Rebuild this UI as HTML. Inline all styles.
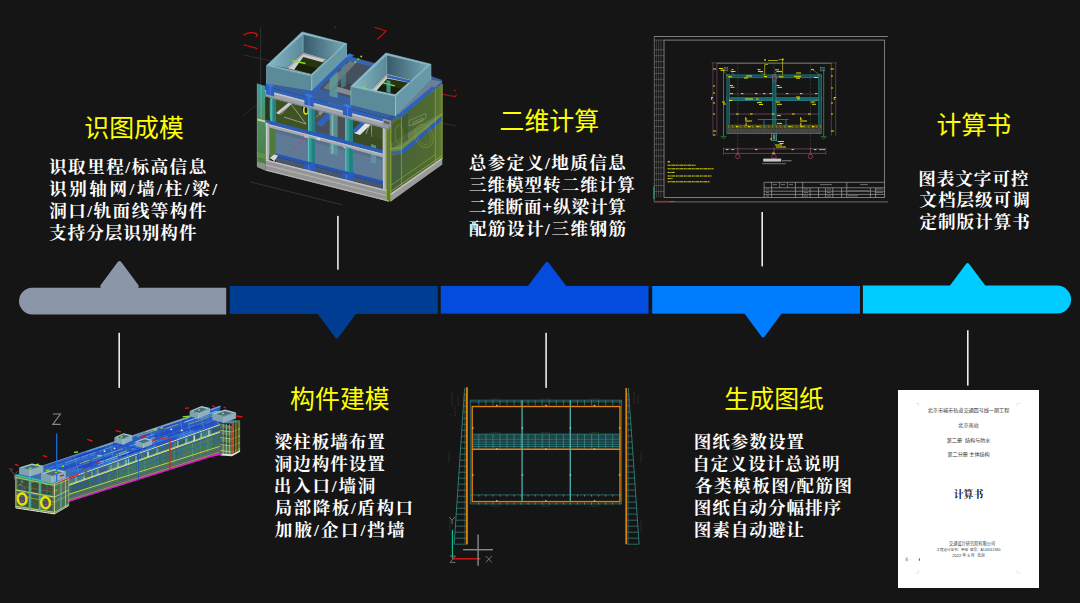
<!DOCTYPE html>
<html lang="zh-CN">
<head>
<meta charset="utf-8">
<title>识图成模 · 构件建模 · 二维计算 · 生成图纸 · 计算书</title>
<style>
html,body{margin:0;padding:0;background:#151515;}
body{width:1080px;height:603px;overflow:hidden;font-family:"Liberation Sans","Noto Sans CJK SC",sans-serif;}
.slide{position:relative;width:1080px;height:603px;background:#151515;overflow:hidden;}
.slide svg.art{position:absolute;left:0;top:0;width:1080px;height:603px;display:block;}
svg.art text{white-space:pre;}
svg.art .t{font-family:"Liberation Sans","Noto Sans CJK SC",sans-serif;font-size:24.9px;fill:#ffff00;}
svg.art .l{font-family:"Liberation Serif","Noto Serif CJK SC",serif;font-weight:bold;font-size:17.6px;fill:#ffffff;}
svg.art .d{font-family:"Liberation Sans","Noto Sans CJK SC",sans-serif;}
</style>
</head>
<body>
<div class="slide">
<svg class="art" viewBox="0 0 1080 603" width="1080" height="603">
<rect width="1080" height="603" fill="#151515"/>
<g id="timeline">
<path d="M32.3 287.8H226.2V314.4H32.3A13.3 13.3 0 0 1 32.3 287.8Z" fill="#8b96a8"/>
<rect x="229.8" y="286" width="208" height="27.9" fill="#003e94"/>
<rect x="440.7" y="285.9" width="207.8" height="27.8" fill="#044cde"/>
<rect x="652.2" y="286" width="207.8" height="27.7" fill="#007cff"/>
<path d="M862.9 285.6H1057.1A14 14 0 0 1 1057.1 313.6H862.9Z" fill="#00ccff"/>
<path d="M119.5 263.2L136.55 286.3L102.45 286.3Z" fill="#8b96a8" stroke="#8b96a8" stroke-width="4.4" stroke-linejoin="round"/><path d="M336.80 336.30L354.89 311.80L318.71 311.80Z" fill="#003e94" stroke="#003e94" stroke-width="4.00" stroke-linejoin="round"/><path d="M547.05 263.90L565.00 287.80L529.10 287.80Z" fill="#044cde" stroke="#044cde" stroke-width="4.00" stroke-linejoin="round"/><path d="M763.05 335.30L780.44 311.90L745.66 311.90Z" fill="#007cff" stroke="#007cff" stroke-width="4.00" stroke-linejoin="round"/><path d="M967.60 265.10L984.34 287.80L950.86 287.80Z" fill="#00ccff" stroke="#00ccff" stroke-width="4.00" stroke-linejoin="round"/><rect x="118.4" y="332.8" width="1.6" height="55.1" fill="#ececec"/><rect x="337.1" y="215.9" width="1.6" height="53.8" fill="#ececec"/><rect x="545.3" y="332.8" width="1.6" height="55.1" fill="#ececec"/><rect x="761.4" y="212.0" width="1.6" height="54.4" fill="#ececec"/><rect x="967.0" y="330.2" width="1.6" height="55.4" fill="#ececec"/></g>
<defs><linearGradient id="bgA" x1="0" y1="0" x2="1" y2="0"><stop offset="0" stop-color="#86b6c4"/><stop offset="1" stop-color="#5a8a99"/></linearGradient><linearGradient id="bgB" x1="0" y1="0" x2="1" y2="0"><stop offset="0" stop-color="#36596a"/><stop offset="1" stop-color="#74a6b4"/></linearGradient><linearGradient id="bgL" x1="0" y1="0" x2="0" y2="1"><stop offset="0" stop-color="#3d9c9c"/><stop offset="0.4" stop-color="#4f8f66"/><stop offset="1" stop-color="#4c7a3a"/></linearGradient><linearGradient id="bgR" x1="0" y1="0" x2="1" y2="0"><stop offset="0" stop-color="#48623a"/><stop offset="0.8" stop-color="#4f6a30"/><stop offset="1" stop-color="#5f7e34"/></linearGradient></defs>
<g id="building">
<polyline points="260.6,27.0 260.6,92.0" fill="none" stroke="#3d3d3d" stroke-width="0.7"/>
<polyline points="243.3,54.8 300.0,67.5" fill="none" stroke="#3a3a3a" stroke-width="0.7"/>
<polyline points="243.0,116.0 262.0,100.0" fill="none" stroke="#333" stroke-width="0.7"/>
<polyline points="250.0,181.8 342.9,205.0" fill="none" stroke="#3a3a3a" stroke-width="0.8"/>
<polyline points="420.0,90.0 456.0,97.0" fill="none" stroke="#383838" stroke-width="0.7"/>
<polyline points="428.0,120.0 456.0,126.0" fill="none" stroke="#383838" stroke-width="0.7"/>
<path d="M243.6 35.2q5.5-4.2 12.6-1.6q2.2 1.6-.6 3.2" fill="none" stroke="#e01010" stroke-width="1.3"/>
<polyline points="243.5,44.8 257.5,48.6" fill="none" stroke="#c81010" stroke-width="1.1"/>
<polyline points="374.5,27.3 386.2,31.0 377.0,39.5" fill="none" stroke="#c01010" stroke-width="1.1"/>
<polyline points="334.3,28.2 336.0,26.6" fill="none" stroke="#c01010" stroke-width="1"/>
<polyline points="436.5,93.0 455.0,96.6 456.6,94.6" fill="none" stroke="#a01010" stroke-width="1.1"/>
<circle cx="454.7" cy="90.2" r="0.8" fill="#e01010"/>
<polygon points="265.3,90.2 386.4,122.6 386.4,155.6 265.3,124.0" fill="#2a351c"/>
<polygon points="270.0,95.7 307.0,105.6 307.0,132.4 270.0,122.7" fill="#3f5223"/>
<polygon points="315.0,107.7 346.0,115.9 346.0,142.6 315.0,134.5" fill="#4a4f58"/>
<polygon points="352.0,117.5 383.0,125.8 383.0,152.2 352.0,144.1" fill="#3a4a24"/>
<polygon points="276.0,113.0 290.0,101.5 293.0,102.5 279.0,114.5" fill="#c9ccd0"/>
<polyline points="281.0,114.5 291.0,104.0 306.0,124.0 284.0,117.0" fill="none" stroke="#e8e8e8" stroke-width="0.5"/>
<polygon points="300.0,100.5 307.0,102.4 307.0,114.0 303.0,112.0" fill="#151a10"/>
<ellipse cx="306" cy="110" rx="2.2" ry="4" fill="none" stroke="#e6e600" stroke-width="1.6"/>
<polygon points="316.0,124.0 330.0,109.0 337.0,111.0 322.0,127.0" fill="#2f62b8"/>
<polygon points="318.0,112.0 330.0,100.0 344.0,104.0 344.0,108.0 331.0,104.5 320.0,116.0" fill="#7e858e"/>
<polyline points="316.0,117.5 324.0,109.5 330.0,111.0" fill="none" stroke="#e6e600" stroke-width="0.5"/>
<polygon points="354.0,133.0 372.0,116.0 378.0,117.6 360.0,135.0" fill="#dfe2e6"/>
<polygon points="352.0,131.0 368.0,114.0 373.0,115.4 356.0,132.5" fill="#2f62b8"/>
<polyline points="366.0,134.0 371.0,121.0 372.0,137.0" fill="none" stroke="#e8e8e8" stroke-width="0.5"/>
<polygon points="372.0,118.0 383.0,121.0 383.0,140.0 372.0,137.0" fill="#3e5226"/>
<polygon points="269.0,126.7 383.5,156.5 383.5,183.8 269.0,154.5" fill="#5f7a96"/>
<polygon points="269.0,126.7 383.5,156.5 383.5,160.6 269.0,130.9" fill="#566f8a"/>
<polygon points="269.5,126.0 275.5,127.6 275.5,155.0 269.5,160.0" fill="#4f7a3a"/>
<polygon points="269.5,100.0 275.5,101.6 275.5,119.0 269.5,117.5" fill="#46803f"/>
<polygon points="329.6,108.2 337.6,110.4 337.6,155.4 329.6,153.3" fill="#5d9b9b" opacity="0.8"/>
<polygon points="371.0,144.1 376.0,145.4 376.0,163.7 371.0,162.4" fill="#5d9b9b" opacity="0.8"/>
<polygon points="331.5,108.7 333.3,109.2 333.3,154.3 331.5,153.8" fill="#8fc6c6" opacity="0.7"/>
<polygon points="315.0,131.0 383.5,150.5 383.5,154.0 315.0,134.5" fill="#2a5ab4"/>
<polygon points="336.0,141.5 383.5,154.5 383.5,157.2 336.0,144.2" fill="#c3c6ca"/>
<polygon points="343.5,145.0 347.0,146.0 347.0,149.0 343.5,148.0" fill="#d0d0d0"/>
<polygon points="329.6,140.0 337.6,142.0 337.6,145.5 329.6,143.5" fill="#3f9c98"/>
<polygon points="265.3,119.4 386.4,151.1 386.4,154.8 265.3,123.2" fill="#2a5cb8"/>
<polygon points="265.3,123.2 386.4,154.8 386.4,157.9 265.3,126.4" fill="#a4a8ae"/>
<polygon points="265.3,123.2 386.4,154.8 386.4,155.8 265.3,124.2" fill="#c4c8cc"/>
<polygon points="304.0,134.0 308.5,135.2 308.5,138.5 304.0,137.3" fill="#b9b9b9"/>
<polygon points="316.5,137.3 320.0,138.3 320.0,140.6 316.5,139.6" fill="#d4d4d4"/>
<polyline points="305.0,137.7 281.8,160.0" fill="none" stroke="#c8425a" stroke-width="0.9"/>
<polyline points="388.0,181.0 371.0,196.5" fill="none" stroke="#c040c0" stroke-width="0.9"/>
<polygon points="270.2,96.6 275.9,98.1 275.9,122.2 270.2,120.7" fill="#2f9a96"/>
<polygon points="273.3,97.4 275.9,98.1 275.9,122.2 273.3,121.5" fill="#237f80"/>
<polygon points="270.6,96.7 271.6,97.0 271.6,121.0 270.6,120.8" fill="#66c8c4"/>
<polygon points="307.7,106.6 315.0,108.5 315.0,132.4 307.7,130.5" fill="#2f9a96"/>
<polygon points="311.7,107.7 315.0,108.5 315.0,132.4 311.7,131.5" fill="#237f80"/>
<polygon points="308.1,106.7 309.1,107.0 309.1,130.8 308.1,130.6" fill="#66c8c4"/>
<polygon points="345.0,116.5 352.8,118.6 352.8,142.3 345.0,140.2" fill="#2f9a96"/>
<polygon points="349.3,117.7 352.8,118.6 352.8,142.3 349.3,141.4" fill="#237f80"/>
<polygon points="345.4,116.6 346.4,116.9 346.4,140.6 345.4,140.3" fill="#66c8c4"/>
<polygon points="307.7,137.4 315.0,139.3 315.0,166.3 307.7,164.4" fill="#2f9a96"/>
<polygon points="311.7,138.5 315.0,139.3 315.0,166.3 311.7,165.4" fill="#237f80"/>
<polygon points="308.1,137.5 309.1,137.8 309.1,164.8 308.1,164.5" fill="#66c8c4"/>
<polygon points="345.0,147.1 352.8,149.2 352.8,175.9 345.0,173.9" fill="#2f9a96"/>
<polygon points="349.3,148.3 352.8,149.2 352.8,175.9 349.3,175.0" fill="#237f80"/>
<polygon points="345.4,147.2 346.4,147.5 346.4,174.3 345.4,174.0" fill="#66c8c4"/>
<polygon points="265.3,122.3 269.3,123.4 269.3,160.5 265.3,159.5" fill="#a9adb2"/>
<polygon points="266.2,122.6 267.2,122.8 267.2,160.0 266.2,159.7" fill="#d5d8dc"/>
<polygon points="382.6,127.4 386.4,128.4 386.4,190.3 382.6,189.3" fill="#a2a6ab"/>
<polygon points="383.4,127.6 384.4,127.8 384.4,189.8 383.4,189.5" fill="#d0d3d7"/>
<polygon points="275.9,153.4 383.0,180.7 383.0,184.1 275.9,156.7" fill="#2456b4"/>
<polygon points="275.9,156.7 383.0,184.1 383.0,189.0 275.9,161.8" fill="#46566e"/>
<polygon points="270.0,158.0 274.0,154.6 278.0,155.6 274.4,161.2" fill="#d8d8d8"/>
<polygon points="304.4,163.6 309.4,164.9 315.0,161.3 315.0,173.8 308.4,178.8 304.4,177.8" fill="#2a5cc0"/>
<polyline points="308.8,164.7 308.8,180.2" fill="none" stroke="#6f9be6" stroke-width="0.5"/>
<polygon points="342.2,173.2 347.2,174.5 353.5,171.1 353.5,183.6 346.2,188.4 342.2,187.4" fill="#2a5cc0"/>
<polyline points="346.6,174.3 346.6,189.7" fill="none" stroke="#6f9be6" stroke-width="0.5"/>
<polygon points="265.3,159.2 388.6,190.5 388.6,201.6 265.3,170.5" fill="#959595"/>
<polygon points="265.3,159.2 388.6,190.5 388.6,192.1 265.3,160.8" fill="#c2c2c2"/>
<polygon points="265.3,164.2 388.6,195.4 388.6,196.6 265.3,165.4" fill="#b4b4b4"/>
<polygon points="265.3,169.2 388.6,200.3 388.6,201.6 265.3,170.5" fill="#b0b0b0"/>
<polygon points="386.4,187.8 388.6,188.4 388.6,201.6 386.4,201.0" fill="#c8c8c8"/>
<polygon points="257.3,83.5 265.3,86.0 265.3,170.5 257.3,166.5" fill="url(#bgL)"/>
<polygon points="257.3,118.5 265.3,120.5 265.3,122.5 257.3,120.5" fill="#c8d88a"/>
<polygon points="257.3,152.0 265.3,154.0 265.3,159.0 257.3,157.0" fill="#5f8f4a"/>
<polygon points="257.3,161.9 265.3,163.5 265.3,170.5 257.3,167.2" fill="#8e8e8e"/>
<polyline points="257.3,83.5 257.3,166.5" fill="none" stroke="#9ab4c8" stroke-width="0.6"/>
<polyline points="261.0,85.0 261.0,119.0" fill="none" stroke="#6fd0d0" stroke-width="0.5"/>
<polygon points="386.4,121.0 390.7,120.9 390.7,201.5 386.4,200.0" fill="#5d7c3a"/>
<polygon points="390.7,120.9 442.2,84.0 442.2,164.5 390.7,201.5" fill="url(#bgR)"/>
<polygon points="390.7,120.9 401.4,113.2 401.4,193.8 390.7,201.5" fill="#55703a" opacity="0.9"/>
<polygon points="390.7,143.0 442.2,112.5 442.2,119.8 404.1,152.2 390.7,152.5" fill="#6a8a58" opacity="0.75"/>
<polygon points="401.5,150.5 442.2,115.8 442.2,120.3 404.5,153.6 401.5,154.0" fill="#2c5cb4"/>
<polygon points="390.7,151.5 401.5,150.5 401.5,154.0 390.7,154.6" fill="#3a62a8"/>
<polyline points="409.0,120.5 426.0,113.5 426.0,118.5 409.0,126.0 409.0,120.5" fill="none" stroke="#8a9c74" stroke-width="0.6"/>
<polyline points="412.0,122.5 423.0,118.0 423.0,120.6 412.0,125.4" fill="none" stroke="#9aac84" stroke-width="0.5"/>
<polygon points="392.0,124.0 408.0,113.5 408.0,140.0 392.0,148.0" fill="#3f5528" opacity="0.6"/>
<ellipse cx="424" cy="136" rx="9" ry="12" fill="none" stroke="#9aa830" stroke-width="0.4" transform="rotate(-20 424 136)"/>
<ellipse cx="424" cy="136" rx="6.5" ry="9" fill="none" stroke="#8a982a" stroke-width="0.4" transform="rotate(-20 424 136)"/>
<ellipse cx="399" cy="134" rx="4" ry="9" fill="none" stroke="#9aa830" stroke-width="0.4"/>
<polygon points="392.0,156.0 401.4,154.0 401.4,186.0 392.0,192.0" fill="#3c5640" opacity="0.7"/>
<polygon points="390.7,193.6 442.2,157.8 442.2,164.5 390.7,201.5" fill="#9a9a9a"/>
<polygon points="390.7,193.6 442.2,157.8 442.2,159.2 390.7,195.2" fill="#c4c4c4"/>
<polyline points="390.7,120.9 442.2,84.0" fill="none" stroke="#a4ba3a" stroke-width="0.8"/>
<polyline points="390.7,120.9 390.7,201.5" fill="none" stroke="#a4ba3a" stroke-width="0.7"/>
<polyline points="401.4,113.5 401.4,193.6" fill="none" stroke="#9fb83a" stroke-width="0.6"/>
<polyline points="435.4,89.0 435.4,163.8" fill="none" stroke="#9fb83a" stroke-width="0.5"/>
<polyline points="442.2,84.0 442.2,159.0" fill="none" stroke="#a4ba3a" stroke-width="0.7"/>
<polyline points="390.7,191.4 442.2,155.6" fill="none" stroke="#a4ba3a" stroke-width="0.7"/>
<polyline points="390.7,185.5 435.4,154.6" fill="none" stroke="#9fb83a" stroke-width="0.5"/>
<polyline points="390.7,148.8 401.4,147.6 442.2,113.8" fill="none" stroke="#a4ba3a" stroke-width="0.6"/>
<polyline points="386.4,121.5 386.4,200.0" fill="none" stroke="#a4ba3a" stroke-width="0.6"/>
<polygon points="265.3,86.0 388.6,119.0 442.2,79.9 430.9,76.0 395.5,103.0 311.7,81.0 266.6,79.0" fill="#3a5f9e"/>
<polygon points="388.6,119.0 442.2,79.9 442.2,84.0 390.7,121.5" fill="#2a58b0"/>
<polygon points="395.5,110.0 430.9,79.8 442.2,81.5 400.0,117.0" fill="#6b7f98"/>
<polygon points="396.0,116.5 432.0,86.5 436.0,88.0 400.0,118.5" fill="#2e62b8"/>
<polygon points="318.0,88.0 349.0,56.0 384.0,65.5 352.0,98.0" fill="#44505c"/>
<polygon points="323.0,88.2 349.5,61.0 356.0,63.0 330.0,90.3" fill="#6d7780"/>
<polygon points="334.0,91.0 340.0,84.5 372.0,93.5 366.0,100.0" fill="#878c92"/>
<polygon points="337.0,86.5 342.0,81.5 368.0,89.0 363.0,94.0" fill="#3a434c"/>
<polygon points="329.6,75.0 337.6,68.0 337.6,98.0 329.6,96.0" fill="#5f9a98" opacity="0.85"/>
<polygon points="341.0,64.0 346.0,60.0 346.0,86.0 341.0,88.0" fill="#4f8888" opacity="0.7"/>
<polygon points="349.0,53.6 354.4,55.0 313.8,94.2 305.0,96.0 305.0,92.0" fill="#2e62b8"/>
<polygon points="345.0,56.0 350.0,53.5 352.0,55.6 347.0,58.5" fill="#3a72d0"/>
<polygon points="350.0,57.0 386.0,66.5 384.5,70.0 348.5,60.5" fill="#3566b6"/>
<polygon points="352.0,97.0 384.0,64.0 388.0,65.5 356.0,99.0" fill="#2a58ac"/>
<polygon points="265.3,86.0 388.6,119.0 388.6,123.2 265.3,90.2" fill="#2e62b8"/>
<polygon points="265.3,90.1 388.6,123.0 388.6,129.4 265.3,96.6" fill="#9ea3aa"/>
<polygon points="265.3,90.1 388.6,123.0 388.6,124.7 265.3,91.7" fill="#c0c4c9"/>
<polygon points="265.3,95.5 388.6,128.3 388.6,129.4 265.3,96.6" fill="#7e848c"/>
<polygon points="266.2,83.7 270.2,83.5 274.2,85.9 274.2,96.4 266.2,94.3" fill="#2c5fc2"/>
<polygon points="266.2,83.7 270.2,83.5 274.2,85.9 270.2,87.3" fill="#3f78d8"/>
<polyline points="270.2,87.3 270.2,95.3" fill="none" stroke="#6f9be6" stroke-width="0.5"/>
<polygon points="304.4,94.0 309.0,94.0 313.7,96.5 313.7,106.9 304.4,104.4" fill="#2c5fc2"/>
<polygon points="304.4,94.0 309.0,94.0 313.7,96.5 309.0,97.7" fill="#3f78d8"/>
<polyline points="309.0,97.7 309.0,105.7" fill="none" stroke="#6f9be6" stroke-width="0.5"/>
<polygon points="342.9,104.3 347.5,104.3 352.2,106.8 352.2,117.2 342.9,114.7" fill="#2c5fc2"/>
<polygon points="342.9,104.3 347.5,104.3 352.2,106.8 347.5,108.0" fill="#3f78d8"/>
<polyline points="347.5,108.0 347.5,115.9" fill="none" stroke="#6f9be6" stroke-width="0.5"/>
<polygon points="382.6,118.4 391.0,120.6 391.0,127.5 382.6,125.5" fill="#8e949c"/>
<polygon points="384.0,120.5 389.5,122.0 389.5,124.5 384.0,123.0" fill="#5a5f66"/>
<polygon points="268.6,64.9 303.1,34.2 303.1,52.2 285.8,68.1" fill="url(#bgA)"/><polygon points="303.1,34.2 344.6,44.2 327.0,59.2 303.1,52.2" fill="url(#bgB)"/><polygon points="285.8,68.1 303.1,52.2 327.0,59.2 311.3,74.4" fill="#98a4aa"/><polygon points="288.8,68.4 303.4,54.4 324.0,59.6 311.3,72.9" fill="#c9cdd0"/><polygon points="294.5,69.5 303.3,57.1 323.4,62.6 311.7,74.4" fill="#26340f"/><polygon points="294.5,69.5 298.9,63.3 317.5,68.5 311.7,74.4" fill="#111a08" opacity="0.7"/><polygon points="266.6,65.5 311.7,76.1 311.7,90.7 266.6,83.4" fill="#5b8a99"/><polygon points="311.7,76.1 346.6,43.6 346.6,56.8 311.7,90.7" fill="#6798a7"/><path d="M266.6 65.5L302.0 31.9L346.6 43.6L311.7 76.1ZM268.8 65.0L303.1 34.2L344.4 44.1L311.3 74.4Z" fill="#86b8c6" fill-rule="evenodd"/><polyline points="266.6,65.5 302.0,31.9 346.6,43.6 311.7,76.1 266.6,65.5" fill="none" stroke="#8ec2d0" stroke-width="0.6" stroke-linejoin="round"/><polyline points="268.8,65.0 303.1,34.2 344.4,44.1 311.3,74.4 268.8,65.0" fill="none" stroke="#a6d6e2" stroke-width="0.5"/><polyline points="303.1,34.2 303.1,52.2" fill="none" stroke="#9fd0dc" stroke-width="0.6"/><polyline points="311.7,76.1 311.7,90.7" fill="none" stroke="#9fd0dc" stroke-width="0.8"/><polyline points="266.6,65.5 266.6,83.4" fill="none" stroke="#8ec2d0" stroke-width="0.6"/><polyline points="346.6,43.6 346.6,56.8" fill="none" stroke="#8ec2d0" stroke-width="0.6"/><polyline points="292.2,60.6 305.5,63.5" fill="none" stroke="#86e81c" stroke-width="1.3"/>
<polygon points="352.9,85.8 386.7,55.1 386.7,73.8 369.9,89.8" fill="url(#bgA)"/><polygon points="386.7,55.1 428.9,64.8 411.7,79.8 386.7,73.8" fill="url(#bgB)"/><polygon points="369.9,89.8 386.7,73.8 411.7,79.8 395.1,94.7" fill="#98a4aa"/><polygon points="372.9,90.1 387.0,76.0 408.7,80.2 395.1,93.2" fill="#c9cdd0"/><polygon points="376.5,91.1 387.1,78.5 409.0,82.7 395.1,94.7" fill="#26340f"/><polygon points="376.5,91.1 381.8,84.8 402.1,88.7 395.1,94.7" fill="#111a08" opacity="0.7"/><polygon points="350.9,86.4 395.5,96.4 395.5,116.3 350.9,105.0" fill="#5b8a99"/><polygon points="395.5,96.4 430.9,64.2 430.9,79.8 395.5,116.3" fill="#6798a7"/><path d="M350.9 86.4L385.8 53.0L430.9 64.2L395.5 96.4ZM353.1 85.9L386.7 55.1L428.7 64.7L395.1 94.7Z" fill="#86b8c6" fill-rule="evenodd"/><polyline points="350.9,86.4 385.8,53.0 430.9,64.2 395.5,96.4 350.9,86.4" fill="none" stroke="#8ec2d0" stroke-width="0.6" stroke-linejoin="round"/><polyline points="353.1,85.9 386.7,55.1 428.7,64.7 395.1,94.7 353.1,85.9" fill="none" stroke="#a6d6e2" stroke-width="0.5"/><polyline points="386.7,55.1 386.7,73.8" fill="none" stroke="#9fd0dc" stroke-width="0.6"/><polyline points="395.5,96.4 395.5,116.3" fill="none" stroke="#9fd0dc" stroke-width="0.8"/><polyline points="350.9,86.4 350.9,105.0" fill="none" stroke="#8ec2d0" stroke-width="0.6"/><polyline points="430.9,64.2 430.9,79.8" fill="none" stroke="#8ec2d0" stroke-width="0.6"/><polyline points="382.5,82.7 394.7,85.8" fill="none" stroke="#86e81c" stroke-width="1.3"/>
<polygon points="386.5,80.0 390.5,81.0 390.5,93.0 386.5,92.0" fill="#43a8a8" opacity="0.85"/>
<polygon points="387.1,75.0 411.0,80.5 409.5,82.6 387.1,77.5" fill="#2e62b8"/>
<circle cx="355.3" cy="61.9" r="1" fill="#86e81c"/>
<circle cx="358.3" cy="59.2" r="1" fill="#86e81c"/>
<circle cx="361.2" cy="56.6" r="1" fill="#86e81c"/>
<circle cx="364.5" cy="86.4" r="1" fill="#86e81c"/>
</g><g id="sheet">
<line x1="654.0" y1="36.5" x2="887.8" y2="36.5" stroke="#8a8a8a" stroke-width="0.9"/>
<line x1="654.3" y1="36.5" x2="654.3" y2="201.9" stroke="#787878" stroke-width="0.8"/>
<line x1="654.0" y1="201.9" x2="887.9" y2="201.9" stroke="#5c5c5c" stroke-width="1.3"/>
<rect x="664" y="40.1" width="220.6" height="157.4" fill="none" stroke="#8e8e8e" stroke-width="0.85"/>
<line x1="654.3" y1="40.1" x2="664.0" y2="40.1" stroke="#6a6a6a" stroke-width="0.7"/>
<line x1="656.4" y1="40.1" x2="656.4" y2="197.5" stroke="#5a5a5a" stroke-width="0.6"/>
<line x1="658.6" y1="40.1" x2="658.6" y2="197.5" stroke="#5a5a5a" stroke-width="0.6"/>
<line x1="660.9" y1="40.1" x2="660.9" y2="197.5" stroke="#5a5a5a" stroke-width="0.6"/>
<line x1="654.3" y1="49.8" x2="664.0" y2="49.8" stroke="#6c6c6c" stroke-width="0.6"/>
<line x1="654.3" y1="55.7" x2="664.0" y2="55.7" stroke="#6c6c6c" stroke-width="0.6"/>
<line x1="654.3" y1="61.6" x2="664.0" y2="61.6" stroke="#6c6c6c" stroke-width="0.6"/>
<line x1="654.3" y1="67.5" x2="664.0" y2="67.5" stroke="#6c6c6c" stroke-width="0.6"/>
<line x1="654.3" y1="73.4" x2="664.0" y2="73.4" stroke="#6c6c6c" stroke-width="0.6"/>
<line x1="654.3" y1="79.3" x2="664.0" y2="79.3" stroke="#6c6c6c" stroke-width="0.6"/>
<line x1="654.3" y1="85.2" x2="664.0" y2="85.2" stroke="#6c6c6c" stroke-width="0.6"/>
<line x1="654.3" y1="91.1" x2="664.0" y2="91.1" stroke="#6c6c6c" stroke-width="0.6"/>
<line x1="654.3" y1="97.0" x2="664.0" y2="97.0" stroke="#6c6c6c" stroke-width="0.6"/>
<line x1="654.3" y1="102.9" x2="664.0" y2="102.9" stroke="#6c6c6c" stroke-width="0.6"/>
<line x1="654.3" y1="108.8" x2="664.0" y2="108.8" stroke="#6c6c6c" stroke-width="0.6"/>
<line x1="654.3" y1="114.7" x2="664.0" y2="114.7" stroke="#6c6c6c" stroke-width="0.6"/>
<line x1="654.3" y1="120.6" x2="664.0" y2="120.6" stroke="#6c6c6c" stroke-width="0.6"/>
<line x1="654.3" y1="126.5" x2="664.0" y2="126.5" stroke="#6c6c6c" stroke-width="0.6"/>
<line x1="654.3" y1="132.4" x2="664.0" y2="132.4" stroke="#6c6c6c" stroke-width="0.6"/>
<line x1="654.3" y1="138.3" x2="664.0" y2="138.3" stroke="#6c6c6c" stroke-width="0.6"/>
<line x1="654.3" y1="144.2" x2="664.0" y2="144.2" stroke="#6c6c6c" stroke-width="0.6"/>
<line x1="654.3" y1="150.1" x2="664.0" y2="150.1" stroke="#6c6c6c" stroke-width="0.6"/>
<line x1="654.3" y1="156.0" x2="664.0" y2="156.0" stroke="#6c6c6c" stroke-width="0.6"/>
<line x1="654.3" y1="161.9" x2="664.0" y2="161.9" stroke="#6c6c6c" stroke-width="0.6"/>
<line x1="654.3" y1="167.8" x2="664.0" y2="167.8" stroke="#6c6c6c" stroke-width="0.6"/>
<line x1="654.3" y1="173.7" x2="664.0" y2="173.7" stroke="#6c6c6c" stroke-width="0.6"/>
<line x1="654.3" y1="179.6" x2="664.0" y2="179.6" stroke="#6c6c6c" stroke-width="0.6"/>
<line x1="654.3" y1="185.5" x2="664.0" y2="185.5" stroke="#6c6c6c" stroke-width="0.6"/>
<line x1="654.3" y1="191.4" x2="664.0" y2="191.4" stroke="#6c6c6c" stroke-width="0.6"/>
<line x1="653.9" y1="186.5" x2="653.9" y2="199.0" stroke="#18a8a0" stroke-width="1.1"/>
<line x1="653.6" y1="201.5" x2="669.0" y2="201.5" stroke="#c81818" stroke-width="1.3"/>
<line x1="669.0" y1="201.5" x2="675.0" y2="201.5" stroke="#777" stroke-width="0.8"/>
<line x1="764.1" y1="182.3" x2="884.8" y2="182.3" stroke="#a4a4a4" stroke-width="0.7"/>
<line x1="764.1" y1="187.8" x2="884.8" y2="187.8" stroke="#a4a4a4" stroke-width="0.7"/>
<line x1="764.1" y1="191.2" x2="884.8" y2="191.2" stroke="#a4a4a4" stroke-width="0.7"/>
<line x1="764.1" y1="194.4" x2="884.8" y2="194.4" stroke="#a4a4a4" stroke-width="0.7"/>
<line x1="764.1" y1="182.3" x2="764.1" y2="197.5" stroke="#a4a4a4" stroke-width="0.7"/>
<line x1="771.6" y1="182.3" x2="771.6" y2="197.5" stroke="#a4a4a4" stroke-width="0.7"/>
<line x1="779.6" y1="182.3" x2="779.6" y2="187.8" stroke="#a4a4a4" stroke-width="0.6"/>
<line x1="787.4" y1="182.3" x2="787.4" y2="187.8" stroke="#a4a4a4" stroke-width="0.6"/>
<line x1="795.4" y1="182.3" x2="795.4" y2="197.5" stroke="#a4a4a4" stroke-width="0.7"/>
<line x1="802.7" y1="182.3" x2="802.7" y2="197.5" stroke="#a4a4a4" stroke-width="0.7"/>
<line x1="810.1" y1="187.8" x2="810.1" y2="197.5" stroke="#a4a4a4" stroke-width="0.7"/>
<line x1="818.5" y1="187.8" x2="818.5" y2="197.5" stroke="#a4a4a4" stroke-width="0.7"/>
<line x1="825.6" y1="187.8" x2="825.6" y2="197.5" stroke="#a4a4a4" stroke-width="0.7"/>
<line x1="832.8" y1="187.8" x2="832.8" y2="197.5" stroke="#a4a4a4" stroke-width="0.7"/>
<line x1="841.6" y1="187.8" x2="841.6" y2="197.5" stroke="#a4a4a4" stroke-width="0.7"/>
<line x1="846.8" y1="182.3" x2="846.8" y2="197.5" stroke="#a4a4a4" stroke-width="0.7"/>
<line x1="870.4" y1="187.8" x2="870.4" y2="197.5" stroke="#a4a4a4" stroke-width="0.7"/>
<line x1="875.6" y1="187.8" x2="875.6" y2="197.5" stroke="#a4a4a4" stroke-width="0.7"/>
<line x1="773.0" y1="184.6" x2="777.0" y2="184.6" stroke="#777" stroke-width="0.9"/>
<line x1="781.0" y1="184.6" x2="785.0" y2="184.6" stroke="#777" stroke-width="0.9"/>
<line x1="789.0" y1="184.6" x2="793.0" y2="184.6" stroke="#777" stroke-width="0.9"/>
<line x1="820.0" y1="184.6" x2="832.0" y2="184.6" stroke="#777" stroke-width="0.9"/>
<line x1="860.0" y1="184.6" x2="868.0" y2="184.6" stroke="#777" stroke-width="0.9"/>
<line x1="848.0" y1="190.9" x2="869.0" y2="190.9" stroke="#777" stroke-width="0.9"/>
<line x1="848.0" y1="195.8" x2="858.0" y2="195.8" stroke="#777" stroke-width="0.9"/>
<line x1="804.0" y1="189.0" x2="808.0" y2="189.0" stroke="#777" stroke-width="0.9"/>
<line x1="804.0" y1="192.4" x2="808.0" y2="192.4" stroke="#777" stroke-width="0.9"/>
<line x1="804.0" y1="196.0" x2="808.0" y2="196.0" stroke="#777" stroke-width="0.9"/>
<line x1="827.0" y1="189.0" x2="831.0" y2="189.0" stroke="#777" stroke-width="0.9"/>
<line x1="827.0" y1="192.4" x2="831.0" y2="192.4" stroke="#777" stroke-width="0.9"/>
<line x1="827.0" y1="196.0" x2="831.0" y2="196.0" stroke="#777" stroke-width="0.9"/>
<line x1="766.0" y1="189.0" x2="769.0" y2="189.0" stroke="#777" stroke-width="0.9"/>
<line x1="766.0" y1="192.4" x2="769.0" y2="192.4" stroke="#777" stroke-width="0.9"/>
<line x1="766.0" y1="196.0" x2="769.0" y2="196.0" stroke="#777" stroke-width="0.9"/>
<line x1="876.0" y1="189.0" x2="883.0" y2="189.0" stroke="#777" stroke-width="0.9"/>
<line x1="876.0" y1="192.4" x2="883.0" y2="192.4" stroke="#777" stroke-width="0.9"/>
<line x1="737.8" y1="62.0" x2="737.8" y2="154.0" stroke="#4a4a4a" stroke-width="0.5" stroke-dasharray="3 1"/>
<circle cx="737.8" cy="156.4" r="2.2" fill="none" stroke="#c04a6a" stroke-width="0.6"/>
<line x1="774.0" y1="62.0" x2="774.0" y2="154.0" stroke="#4a4a4a" stroke-width="0.5" stroke-dasharray="3 1"/>
<circle cx="774.0" cy="156.4" r="2.2" fill="none" stroke="#c04a6a" stroke-width="0.6"/>
<line x1="810.4" y1="62.0" x2="810.4" y2="154.0" stroke="#4a4a4a" stroke-width="0.5" stroke-dasharray="3 1"/>
<circle cx="810.4" cy="156.4" r="2.2" fill="none" stroke="#c04a6a" stroke-width="0.6"/>
<line x1="712.9" y1="62.9" x2="712.9" y2="135.5" stroke="#9a5f7e" stroke-width="0.5"/>
<line x1="716.9" y1="62.9" x2="716.9" y2="135.5" stroke="#9a5f7e" stroke-width="0.5"/>
<line x1="831.3" y1="62.9" x2="831.3" y2="135.5" stroke="#9a5f7e" stroke-width="0.5"/>
<line x1="835.7" y1="62.9" x2="835.7" y2="135.5" stroke="#9a5f7e" stroke-width="0.5"/>
<line x1="723.5" y1="148.9" x2="825.7" y2="148.9" stroke="#9a5f7e" stroke-width="0.6"/>
<line x1="723.5" y1="153.4" x2="825.7" y2="153.4" stroke="#9a5f7e" stroke-width="0.6"/>
<line x1="723.5" y1="147.5" x2="723.5" y2="154.8" stroke="#9a5f7e" stroke-width="0.5"/>
<line x1="737.8" y1="147.5" x2="737.8" y2="154.8" stroke="#9a5f7e" stroke-width="0.5"/>
<line x1="774.0" y1="147.5" x2="774.0" y2="154.8" stroke="#9a5f7e" stroke-width="0.5"/>
<line x1="810.4" y1="147.5" x2="810.4" y2="154.8" stroke="#9a5f7e" stroke-width="0.5"/>
<line x1="825.7" y1="147.5" x2="825.7" y2="154.8" stroke="#9a5f7e" stroke-width="0.5"/>
<line x1="711.5" y1="62.9" x2="837.0" y2="62.9" stroke="#9a5f7e" stroke-width="0.5"/>
<line x1="729.4" y1="114.0" x2="819.0" y2="114.0" stroke="#9a5f7e" stroke-width="0.6"/>
<line x1="729.4" y1="94.0" x2="819.0" y2="94.0" stroke="#8a5a78" stroke-width="0.5"/>
<line x1="716.9" y1="63.3" x2="831.3" y2="63.3" stroke="#2f9e3a" stroke-width="0.9"/>
<line x1="723.5" y1="68.9" x2="723.5" y2="136.5" stroke="#2f9e3a" stroke-width="0.8"/>
<line x1="823.7" y1="68.9" x2="823.7" y2="136.5" stroke="#2f9e3a" stroke-width="0.8"/>
<path d="M721 136.5h5l-2.5 2.6zM821.2 136.5h5l-2.5 2.6z" fill="none" stroke="#2f9e3a" stroke-width="0.6"/>
<rect x="726.9" y="74.9" width="94.4" height="2.9" fill="#155055" stroke="#2a9c9c" stroke-width="0.5"/>
<rect x="726.9" y="97.7" width="94.4" height="3.0" fill="#17686c" stroke="#2a9c9c" stroke-width="0.5"/>
<rect x="726.9" y="74.9" width="2.5" height="58.6" fill="#134a4e" stroke="#2a9c9c" stroke-width="0.5"/>
<rect x="818.8" y="74.9" width="2.5" height="58.6" fill="#134a4e" stroke="#2a9c9c" stroke-width="0.5"/>
<rect x="772.6" y="74.9" width="3.4" height="50.0" fill="#15555a" stroke="#2a9c9c" stroke-width="0.5"/>
<rect x="726.9" y="124.6" width="94.4" height="4.0" fill="#4a4a20"/>
<rect x="726.9" y="128.6" width="94.4" height="4.9" fill="#414141"/>
<line x1="728.0" y1="125.0" x2="729.2" y2="128.2" stroke="#c8c020" stroke-width="0.4"/>
<line x1="732.0" y1="125.0" x2="733.2" y2="128.2" stroke="#c8c020" stroke-width="0.4"/>
<line x1="736.0" y1="125.0" x2="737.2" y2="128.2" stroke="#c8c020" stroke-width="0.4"/>
<line x1="740.0" y1="125.0" x2="741.2" y2="128.2" stroke="#c8c020" stroke-width="0.4"/>
<line x1="744.0" y1="125.0" x2="745.2" y2="128.2" stroke="#c8c020" stroke-width="0.4"/>
<line x1="748.0" y1="125.0" x2="749.2" y2="128.2" stroke="#c8c020" stroke-width="0.4"/>
<line x1="752.0" y1="125.0" x2="753.2" y2="128.2" stroke="#c8c020" stroke-width="0.4"/>
<line x1="756.0" y1="125.0" x2="757.2" y2="128.2" stroke="#c8c020" stroke-width="0.4"/>
<line x1="760.0" y1="125.0" x2="761.2" y2="128.2" stroke="#c8c020" stroke-width="0.4"/>
<line x1="764.0" y1="125.0" x2="765.2" y2="128.2" stroke="#c8c020" stroke-width="0.4"/>
<line x1="768.0" y1="125.0" x2="769.2" y2="128.2" stroke="#c8c020" stroke-width="0.4"/>
<line x1="772.0" y1="125.0" x2="773.2" y2="128.2" stroke="#c8c020" stroke-width="0.4"/>
<line x1="776.0" y1="125.0" x2="777.2" y2="128.2" stroke="#c8c020" stroke-width="0.4"/>
<line x1="780.0" y1="125.0" x2="781.2" y2="128.2" stroke="#c8c020" stroke-width="0.4"/>
<line x1="784.0" y1="125.0" x2="785.2" y2="128.2" stroke="#c8c020" stroke-width="0.4"/>
<line x1="788.0" y1="125.0" x2="789.2" y2="128.2" stroke="#c8c020" stroke-width="0.4"/>
<line x1="792.0" y1="125.0" x2="793.2" y2="128.2" stroke="#c8c020" stroke-width="0.4"/>
<line x1="796.0" y1="125.0" x2="797.2" y2="128.2" stroke="#c8c020" stroke-width="0.4"/>
<line x1="800.0" y1="125.0" x2="801.2" y2="128.2" stroke="#c8c020" stroke-width="0.4"/>
<line x1="804.0" y1="125.0" x2="805.2" y2="128.2" stroke="#c8c020" stroke-width="0.4"/>
<line x1="808.0" y1="125.0" x2="809.2" y2="128.2" stroke="#c8c020" stroke-width="0.4"/>
<line x1="812.0" y1="125.0" x2="813.2" y2="128.2" stroke="#c8c020" stroke-width="0.4"/>
<line x1="816.0" y1="125.0" x2="817.2" y2="128.2" stroke="#c8c020" stroke-width="0.4"/>
<line x1="820.0" y1="125.0" x2="821.2" y2="128.2" stroke="#c8c020" stroke-width="0.4"/>
<line x1="728.0" y1="129.2" x2="730.0" y2="132.8" stroke="#6a6a6a" stroke-width="0.4"/>
<line x1="731.0" y1="129.2" x2="733.0" y2="132.8" stroke="#6a6a6a" stroke-width="0.4"/>
<line x1="734.0" y1="129.2" x2="736.0" y2="132.8" stroke="#6a6a6a" stroke-width="0.4"/>
<line x1="737.0" y1="129.2" x2="739.0" y2="132.8" stroke="#6a6a6a" stroke-width="0.4"/>
<line x1="740.0" y1="129.2" x2="742.0" y2="132.8" stroke="#6a6a6a" stroke-width="0.4"/>
<line x1="743.0" y1="129.2" x2="745.0" y2="132.8" stroke="#6a6a6a" stroke-width="0.4"/>
<line x1="746.0" y1="129.2" x2="748.0" y2="132.8" stroke="#6a6a6a" stroke-width="0.4"/>
<line x1="749.0" y1="129.2" x2="751.0" y2="132.8" stroke="#6a6a6a" stroke-width="0.4"/>
<line x1="752.0" y1="129.2" x2="754.0" y2="132.8" stroke="#6a6a6a" stroke-width="0.4"/>
<line x1="755.0" y1="129.2" x2="757.0" y2="132.8" stroke="#6a6a6a" stroke-width="0.4"/>
<line x1="758.0" y1="129.2" x2="760.0" y2="132.8" stroke="#6a6a6a" stroke-width="0.4"/>
<line x1="761.0" y1="129.2" x2="763.0" y2="132.8" stroke="#6a6a6a" stroke-width="0.4"/>
<line x1="764.0" y1="129.2" x2="766.0" y2="132.8" stroke="#6a6a6a" stroke-width="0.4"/>
<line x1="767.0" y1="129.2" x2="769.0" y2="132.8" stroke="#6a6a6a" stroke-width="0.4"/>
<line x1="770.0" y1="129.2" x2="772.0" y2="132.8" stroke="#6a6a6a" stroke-width="0.4"/>
<line x1="773.0" y1="129.2" x2="775.0" y2="132.8" stroke="#6a6a6a" stroke-width="0.4"/>
<line x1="776.0" y1="129.2" x2="778.0" y2="132.8" stroke="#6a6a6a" stroke-width="0.4"/>
<line x1="779.0" y1="129.2" x2="781.0" y2="132.8" stroke="#6a6a6a" stroke-width="0.4"/>
<line x1="782.0" y1="129.2" x2="784.0" y2="132.8" stroke="#6a6a6a" stroke-width="0.4"/>
<line x1="785.0" y1="129.2" x2="787.0" y2="132.8" stroke="#6a6a6a" stroke-width="0.4"/>
<line x1="788.0" y1="129.2" x2="790.0" y2="132.8" stroke="#6a6a6a" stroke-width="0.4"/>
<line x1="791.0" y1="129.2" x2="793.0" y2="132.8" stroke="#6a6a6a" stroke-width="0.4"/>
<line x1="794.0" y1="129.2" x2="796.0" y2="132.8" stroke="#6a6a6a" stroke-width="0.4"/>
<line x1="797.0" y1="129.2" x2="799.0" y2="132.8" stroke="#6a6a6a" stroke-width="0.4"/>
<line x1="800.0" y1="129.2" x2="802.0" y2="132.8" stroke="#6a6a6a" stroke-width="0.4"/>
<line x1="803.0" y1="129.2" x2="805.0" y2="132.8" stroke="#6a6a6a" stroke-width="0.4"/>
<line x1="806.0" y1="129.2" x2="808.0" y2="132.8" stroke="#6a6a6a" stroke-width="0.4"/>
<line x1="809.0" y1="129.2" x2="811.0" y2="132.8" stroke="#6a6a6a" stroke-width="0.4"/>
<line x1="812.0" y1="129.2" x2="814.0" y2="132.8" stroke="#6a6a6a" stroke-width="0.4"/>
<line x1="815.0" y1="129.2" x2="817.0" y2="132.8" stroke="#6a6a6a" stroke-width="0.4"/>
<line x1="818.0" y1="129.2" x2="820.0" y2="132.8" stroke="#6a6a6a" stroke-width="0.4"/>
<line x1="726.9" y1="133.5" x2="821.3" y2="133.5" stroke="#2f9e3a" stroke-width="0.7"/>
<rect x="757.7" y="119.2" width="30.8" height="0.8" fill="#1f8c8c"/>
<rect x="763.6" y="119.6" width="0.8" height="9.0" fill="#1f8c8c"/>
<rect x="785.6" y="119.6" width="0.8" height="9.0" fill="#1f8c8c"/>
<rect x="771.6" y="133.5" width="5.0" height="7.0" fill="none" stroke="#25a0a0" stroke-width="0.8"/>
<rect x="772.8" y="134.5" width="2.6" height="5.0" fill="#777"/>
<path d="M764.7 74.9V64.5h3.4M782.6 74.9V59.6h-4" fill="none" stroke="#c8c020" stroke-width="0.7"/>
<rect x="764.2" y="59.2" width="1.6" height="1.6" fill="#e6e000"/>
<rect x="782.0" y="58.6" width="1.6" height="1.6" fill="#e6e000"/>
<line x1="768.0" y1="60.5" x2="778.0" y2="60.5" stroke="#e6e000" stroke-width="0.7"/>
<rect x="724.2" y="67.3" width="3.6" height="3.6" fill="none" stroke="#2aa0a0" stroke-width="0.6"/>
<line x1="724.2" y1="67.3" x2="727.8" y2="70.9" stroke="#c04a6a" stroke-width="0.5"/>
<line x1="727.8" y1="67.3" x2="724.2" y2="70.9" stroke="#c04a6a" stroke-width="0.5"/>
<rect x="820.6" y="67.3" width="3.6" height="3.6" fill="none" stroke="#2aa0a0" stroke-width="0.6"/>
<line x1="820.6" y1="67.3" x2="824.2" y2="70.9" stroke="#c04a6a" stroke-width="0.5"/>
<line x1="824.2" y1="67.3" x2="820.6" y2="70.9" stroke="#c04a6a" stroke-width="0.5"/>
<rect x="772.3" y="76.5" width="4.0" height="4.6" fill="none" stroke="#c04a6a" stroke-width="0.5"/>
<line x1="713.0" y1="69.0" x2="716.2" y2="69.0" stroke="#e6e000" stroke-width="1.0"/>
<line x1="713.0" y1="86.0" x2="715.0" y2="86.0" stroke="#e6e000" stroke-width="1.0"/>
<line x1="713.0" y1="93.0" x2="715.0" y2="93.0" stroke="#e6e000" stroke-width="1.0"/>
<line x1="711.0" y1="97.5" x2="713.0" y2="97.5" stroke="#e6e000" stroke-width="1.0"/>
<line x1="713.0" y1="103.0" x2="715.0" y2="103.0" stroke="#e6e000" stroke-width="1.0"/>
<line x1="713.0" y1="114.0" x2="715.0" y2="114.0" stroke="#e6e000" stroke-width="1.0"/>
<line x1="713.0" y1="131.0" x2="716.0" y2="131.0" stroke="#e6e000" stroke-width="1.0"/>
<line x1="713.0" y1="135.0" x2="715.4" y2="135.0" stroke="#e6e000" stroke-width="1.0"/>
<line x1="830.5" y1="69.0" x2="833.9" y2="69.0" stroke="#e6e000" stroke-width="1.0"/>
<line x1="831.0" y1="76.0" x2="833.0" y2="76.0" stroke="#e6e000" stroke-width="1.0"/>
<line x1="831.0" y1="88.0" x2="833.0" y2="88.0" stroke="#e6e000" stroke-width="1.0"/>
<line x1="834.0" y1="97.5" x2="836.0" y2="97.5" stroke="#e6e000" stroke-width="1.0"/>
<line x1="831.0" y1="103.0" x2="833.0" y2="103.0" stroke="#e6e000" stroke-width="1.0"/>
<line x1="831.0" y1="114.0" x2="833.0" y2="114.0" stroke="#e6e000" stroke-width="1.0"/>
<line x1="831.0" y1="131.0" x2="834.0" y2="131.0" stroke="#e6e000" stroke-width="1.0"/>
<line x1="719.0" y1="68.5" x2="723.0" y2="68.5" stroke="#e6e000" stroke-width="1.0"/>
<line x1="720.5" y1="70.3" x2="724.5" y2="70.3" stroke="#e6e000" stroke-width="1.0"/>
<line x1="731.5" y1="69.6" x2="733.5" y2="69.6" stroke="#e6e000" stroke-width="1.0"/>
<line x1="731.0" y1="71.5" x2="735.5" y2="71.5" stroke="#e6e000" stroke-width="1.0"/>
<line x1="757.5" y1="69.6" x2="760.5" y2="69.6" stroke="#e6e000" stroke-width="1.0"/>
<line x1="758.0" y1="71.5" x2="763.0" y2="71.5" stroke="#e6e000" stroke-width="1.0"/>
<line x1="775.0" y1="69.8" x2="779.0" y2="69.8" stroke="#e6e000" stroke-width="1.0"/>
<line x1="776.5" y1="71.6" x2="782.0" y2="71.6" stroke="#e6e000" stroke-width="1.0"/>
<line x1="796.0" y1="73.0" x2="801.0" y2="73.0" stroke="#e6e000" stroke-width="1.0"/>
<line x1="811.0" y1="69.6" x2="814.0" y2="69.6" stroke="#e6e000" stroke-width="1.0"/>
<line x1="728.0" y1="76.8" x2="732.0" y2="76.8" stroke="#e6e000" stroke-width="1.0"/>
<line x1="746.0" y1="76.0" x2="752.0" y2="76.0" stroke="#e6e000" stroke-width="1.0"/>
<line x1="744.0" y1="78.0" x2="748.0" y2="78.0" stroke="#e6e000" stroke-width="1.0"/>
<line x1="764.0" y1="76.5" x2="767.0" y2="76.5" stroke="#e6e000" stroke-width="1.0"/>
<line x1="779.0" y1="76.8" x2="783.5" y2="76.8" stroke="#e6e000" stroke-width="1.0"/>
<line x1="794.0" y1="76.3" x2="801.0" y2="76.3" stroke="#e6e000" stroke-width="1.0"/>
<line x1="796.0" y1="78.2" x2="800.0" y2="78.2" stroke="#e6e000" stroke-width="1.0"/>
<line x1="814.0" y1="77.5" x2="818.0" y2="77.5" stroke="#e6e000" stroke-width="1.0"/>
<line x1="730.0" y1="85.5" x2="733.0" y2="85.5" stroke="#e6e000" stroke-width="1.0"/>
<line x1="730.5" y1="87.3" x2="734.5" y2="87.3" stroke="#e6e000" stroke-width="1.0"/>
<line x1="776.5" y1="85.5" x2="779.5" y2="85.5" stroke="#e6e000" stroke-width="1.0"/>
<line x1="777.5" y1="87.4" x2="782.0" y2="87.4" stroke="#e6e000" stroke-width="1.0"/>
<line x1="730.0" y1="93.6" x2="733.0" y2="93.6" stroke="#e6e000" stroke-width="1.0"/>
<line x1="741.0" y1="93.6" x2="743.4" y2="93.6" stroke="#e6e000" stroke-width="1.0"/>
<line x1="755.0" y1="93.6" x2="757.4" y2="93.6" stroke="#e6e000" stroke-width="1.0"/>
<line x1="763.0" y1="93.6" x2="765.4" y2="93.6" stroke="#e6e000" stroke-width="1.0"/>
<line x1="769.5" y1="93.6" x2="771.9" y2="93.6" stroke="#e6e000" stroke-width="1.0"/>
<line x1="786.0" y1="93.6" x2="788.4" y2="93.6" stroke="#e6e000" stroke-width="1.0"/>
<line x1="800.0" y1="93.6" x2="802.4" y2="93.6" stroke="#e6e000" stroke-width="1.0"/>
<line x1="815.0" y1="93.6" x2="817.4" y2="93.6" stroke="#e6e000" stroke-width="1.0"/>
<line x1="745.0" y1="99.0" x2="753.0" y2="99.0" stroke="#e6e000" stroke-width="1.0"/>
<line x1="756.0" y1="99.0" x2="758.5" y2="99.0" stroke="#e6e000" stroke-width="1.0"/>
<line x1="796.0" y1="97.0" x2="800.0" y2="97.0" stroke="#e6e000" stroke-width="1.0"/>
<line x1="797.0" y1="98.8" x2="800.0" y2="98.8" stroke="#e6e000" stroke-width="1.0"/>
<line x1="722.0" y1="102.0" x2="725.0" y2="102.0" stroke="#e6e000" stroke-width="1.0"/>
<line x1="723.0" y1="104.0" x2="726.0" y2="104.0" stroke="#e6e000" stroke-width="1.0"/>
<line x1="757.0" y1="102.6" x2="762.0" y2="102.6" stroke="#e6e000" stroke-width="1.0"/>
<line x1="759.0" y1="104.5" x2="763.0" y2="104.5" stroke="#e6e000" stroke-width="1.0"/>
<line x1="776.0" y1="102.0" x2="780.0" y2="102.0" stroke="#e6e000" stroke-width="1.0"/>
<line x1="777.0" y1="104.3" x2="782.0" y2="104.3" stroke="#e6e000" stroke-width="1.0"/>
<line x1="810.5" y1="102.0" x2="814.5" y2="102.0" stroke="#e6e000" stroke-width="1.0"/>
<line x1="812.0" y1="104.3" x2="816.0" y2="104.3" stroke="#e6e000" stroke-width="1.0"/>
<line x1="729.0" y1="100.5" x2="732.5" y2="100.5" stroke="#e6e000" stroke-width="1.0"/>
<line x1="736.0" y1="114.0" x2="738.6" y2="114.0" stroke="#e6e000" stroke-width="1.0"/>
<line x1="750.0" y1="114.0" x2="752.6" y2="114.0" stroke="#e6e000" stroke-width="1.0"/>
<line x1="772.0" y1="114.0" x2="774.6" y2="114.0" stroke="#e6e000" stroke-width="1.0"/>
<line x1="792.0" y1="114.0" x2="794.6" y2="114.0" stroke="#e6e000" stroke-width="1.0"/>
<line x1="808.0" y1="114.0" x2="810.6" y2="114.0" stroke="#e6e000" stroke-width="1.0"/>
<line x1="777.0" y1="115.6" x2="781.0" y2="115.6" stroke="#e6e000" stroke-width="1.0"/>
<line x1="745.0" y1="121.0" x2="752.0" y2="121.0" stroke="#e6e000" stroke-width="1.0"/>
<line x1="800.0" y1="121.0" x2="807.0" y2="121.0" stroke="#e6e000" stroke-width="1.0"/>
<line x1="746.0" y1="119.0" x2="747.2" y2="119.0" stroke="#e6e000" stroke-width="1.0"/>
<line x1="801.0" y1="119.0" x2="802.2" y2="119.0" stroke="#e6e000" stroke-width="1.0"/>
<line x1="777.0" y1="123.4" x2="782.0" y2="123.4" stroke="#e6e000" stroke-width="1.0"/>
<line x1="736.0" y1="126.6" x2="738.5" y2="126.6" stroke="#e6e000" stroke-width="1.0"/>
<line x1="748.0" y1="126.6" x2="750.5" y2="126.6" stroke="#e6e000" stroke-width="1.0"/>
<line x1="757.0" y1="126.6" x2="759.5" y2="126.6" stroke="#e6e000" stroke-width="1.0"/>
<line x1="789.0" y1="126.6" x2="791.5" y2="126.6" stroke="#e6e000" stroke-width="1.0"/>
<line x1="801.0" y1="126.6" x2="803.5" y2="126.6" stroke="#e6e000" stroke-width="1.0"/>
<line x1="812.0" y1="126.6" x2="814.5" y2="126.6" stroke="#e6e000" stroke-width="1.0"/>
<line x1="770.0" y1="139.0" x2="772.0" y2="139.0" stroke="#e6e000" stroke-width="1.0"/>
<line x1="778.0" y1="141.5" x2="784.0" y2="141.5" stroke="#e6e000" stroke-width="1.0"/>
<line x1="779.5" y1="143.5" x2="783.5" y2="143.5" stroke="#e6e000" stroke-width="1.0"/>
<line x1="775.0" y1="145.0" x2="782.0" y2="145.0" stroke="#e6e000" stroke-width="1.0"/>
<line x1="776.0" y1="147.0" x2="786.0" y2="147.0" stroke="#e6e000" stroke-width="1.0"/>
<line x1="726.0" y1="149.6" x2="728.4" y2="149.6" stroke="#e6e000" stroke-width="1.0"/>
<line x1="731.5" y1="149.6" x2="733.9" y2="149.6" stroke="#e6e000" stroke-width="1.0"/>
<line x1="755.0" y1="149.6" x2="757.4" y2="149.6" stroke="#e6e000" stroke-width="1.0"/>
<line x1="791.5" y1="149.6" x2="793.9" y2="149.6" stroke="#e6e000" stroke-width="1.0"/>
<line x1="814.0" y1="149.6" x2="816.4" y2="149.6" stroke="#e6e000" stroke-width="1.0"/>
<line x1="819.5" y1="149.6" x2="821.9" y2="149.6" stroke="#e6e000" stroke-width="1.0"/>
<line x1="822.5" y1="149.6" x2="824.9" y2="149.6" stroke="#e6e000" stroke-width="1.0"/>
<line x1="772.0" y1="153.2" x2="775.0" y2="153.2" stroke="#e6e000" stroke-width="1.0"/>
<line x1="711.6" y1="97.0" x2="711.6" y2="100.0" stroke="#e6e000" stroke-width="0.8"/>
<line x1="834.2" y1="97.0" x2="834.2" y2="100.0" stroke="#e6e000" stroke-width="0.8"/>
<line x1="745.6" y1="117.0" x2="745.6" y2="120.0" stroke="#e6e000" stroke-width="0.8"/>
<line x1="746.0" y1="123.0" x2="746.0" y2="126.0" stroke="#e6e000" stroke-width="0.8"/>
<line x1="800.5" y1="117.0" x2="800.5" y2="120.0" stroke="#e6e000" stroke-width="0.8"/>
<line x1="800.8" y1="123.0" x2="800.8" y2="126.0" stroke="#e6e000" stroke-width="0.8"/>
<line x1="722.0" y1="69.5" x2="728.0" y2="76.0" stroke="#c8c018" stroke-width="0.4"/>
<line x1="730.0" y1="70.0" x2="734.0" y2="75.0" stroke="#c8c018" stroke-width="0.4"/>
<line x1="760.0" y1="72.0" x2="765.0" y2="75.0" stroke="#c8c018" stroke-width="0.4"/>
<line x1="776.0" y1="72.0" x2="774.0" y2="76.0" stroke="#c8c018" stroke-width="0.4"/>
<line x1="813.0" y1="70.0" x2="820.0" y2="75.0" stroke="#c8c018" stroke-width="0.4"/>
<line x1="757.0" y1="103.0" x2="762.0" y2="100.5" stroke="#c8c018" stroke-width="0.4"/>
<line x1="812.0" y1="103.0" x2="817.0" y2="100.0" stroke="#c8c018" stroke-width="0.4"/>
<line x1="777.0" y1="103.0" x2="775.0" y2="100.5" stroke="#c8c018" stroke-width="0.4"/>
<line x1="747.0" y1="121.5" x2="746.0" y2="127.0" stroke="#c8c018" stroke-width="0.4"/>
<line x1="801.0" y1="121.5" x2="800.5" y2="127.0" stroke="#c8c018" stroke-width="0.4"/>
<line x1="778.0" y1="142.0" x2="775.5" y2="139.0" stroke="#c8c018" stroke-width="0.4"/>
<rect x="763.2" y="158.6" width="18.0" height="3.0" fill="#e8e8e8" opacity="0.85"/>
<line x1="782.0" y1="160.8" x2="791.5" y2="160.8" stroke="#aaaaaa" stroke-width="0.8"/>
<line x1="762.2" y1="163.7" x2="785.9" y2="163.7" stroke="#9a9a9a" stroke-width="0.7"/>
<rect x="667.6" y="161.2" width="2.4" height="1.2" fill="#e6e000"/>
<line x1="667.6" y1="165.2" x2="695.6" y2="165.2" stroke="#e6e000" stroke-width="1.0" stroke-dasharray="2.2 0.5 1.4 0.4 3 0.5"/>
<line x1="667.6" y1="168.8" x2="713.6" y2="168.8" stroke="#e6e000" stroke-width="1.0" stroke-dasharray="2.2 0.5 1.4 0.4 3 0.5"/>
<line x1="667.6" y1="172.4" x2="674.6" y2="172.4" stroke="#e6e000" stroke-width="1.0" stroke-dasharray="2.2 0.5 1.4 0.4 3 0.5"/>
<line x1="667.6" y1="176.0" x2="711.6" y2="176.0" stroke="#e6e000" stroke-width="1.0" stroke-dasharray="2.2 0.5 1.4 0.4 3 0.5"/>
<line x1="667.6" y1="178.6" x2="672.6" y2="178.6" stroke="#e6e000" stroke-width="1.0" stroke-dasharray="2.2 0.5 1.4 0.4 3 0.5"/>
<line x1="667.6" y1="181.8" x2="709.6" y2="181.8" stroke="#e6e000" stroke-width="1.0" stroke-dasharray="2.2 0.5 1.4 0.4 3 0.5"/>
</g><g id="station">
<path d="M52.8 414h7.6l-7.6 10.4h7.8" fill="none" stroke="#8a8a8a" stroke-width="1.1"/>
<path d="M10.4 470l4 4.6l3.6-3.4M14.4 474.6v5" fill="none" stroke="#5a5a5a" stroke-width="1"/>
<polygon points="34.0,468.6 220.4,405.7 220.4,424.1 56.0,482.4 40.0,474.5" fill="#2a5cbc"/>
<line x1="57.0" y1="461.8" x2="83.0" y2="453.0" stroke="#3a70d8" stroke-width="0.8"/>
<line x1="86.0" y1="452.0" x2="112.8" y2="442.9" stroke="#58a8e8" stroke-width="1.0"/>
<line x1="115.7" y1="442.0" x2="143.3" y2="432.6" stroke="#58a8e8" stroke-width="0.6"/>
<line x1="146.0" y1="431.7" x2="158.5" y2="427.5" stroke="#c8c85a" stroke-width="1.0"/>
<line x1="162.3" y1="426.2" x2="189.4" y2="417.1" stroke="#86c8e8" stroke-width="0.8"/>
<line x1="193.3" y1="415.7" x2="220.4" y2="406.6" stroke="#58a8e8" stroke-width="1.0"/>
<line x1="58.6" y1="463.2" x2="68.5" y2="459.8" stroke="#2448c8" stroke-width="0.6"/>
<line x1="72.1" y1="458.6" x2="105.0" y2="447.4" stroke="#1a2ad0" stroke-width="0.8"/>
<line x1="108.5" y1="446.2" x2="122.8" y2="441.4" stroke="#2448c8" stroke-width="1.0"/>
<line x1="124.5" y1="440.8" x2="132.7" y2="438.0" stroke="#1c34d8" stroke-width="0.8"/>
<line x1="136.6" y1="436.7" x2="157.6" y2="429.6" stroke="#c8c85a" stroke-width="0.6"/>
<line x1="161.9" y1="428.1" x2="180.0" y2="422.0" stroke="#2448c8" stroke-width="1.0"/>
<line x1="181.7" y1="421.4" x2="191.9" y2="417.9" stroke="#1c34d8" stroke-width="0.8"/>
<line x1="192.6" y1="417.7" x2="209.9" y2="411.8" stroke="#1c34d8" stroke-width="0.6"/>
<line x1="48.0" y1="468.7" x2="62.7" y2="463.7" stroke="#3f86e0" stroke-width="0.8"/>
<line x1="65.0" y1="462.9" x2="95.7" y2="452.5" stroke="#86c8e8" stroke-width="0.6"/>
<line x1="99.1" y1="451.3" x2="113.4" y2="446.4" stroke="#4a9ae0" stroke-width="0.8"/>
<line x1="115.4" y1="445.7" x2="133.4" y2="439.6" stroke="#3f86e0" stroke-width="0.8"/>
<line x1="137.9" y1="438.0" x2="149.7" y2="434.0" stroke="#2448c8" stroke-width="1.0"/>
<line x1="150.3" y1="433.8" x2="160.2" y2="430.4" stroke="#3a70d8" stroke-width="0.6"/>
<line x1="164.3" y1="429.0" x2="178.4" y2="424.2" stroke="#c8c85a" stroke-width="0.6"/>
<line x1="184.3" y1="422.2" x2="216.9" y2="411.1" stroke="#86c8e8" stroke-width="1.0"/>
<line x1="55.9" y1="468.0" x2="95.6" y2="454.4" stroke="#3f86e0" stroke-width="0.8"/>
<line x1="100.8" y1="452.6" x2="140.0" y2="439.1" stroke="#2a5cbc" stroke-width="0.8"/>
<line x1="145.9" y1="437.1" x2="154.6" y2="434.1" stroke="#58a8e8" stroke-width="0.8"/>
<line x1="160.6" y1="432.1" x2="187.8" y2="422.7" stroke="#2a5cbc" stroke-width="0.6"/>
<line x1="188.1" y1="422.7" x2="200.8" y2="418.3" stroke="#3a70d8" stroke-width="0.8"/>
<line x1="200.8" y1="418.3" x2="220.4" y2="411.6" stroke="#6ab8e0" stroke-width="0.8"/>
<line x1="49.8" y1="472.0" x2="76.4" y2="462.8" stroke="#2448c8" stroke-width="0.6"/>
<line x1="80.1" y1="461.6" x2="100.0" y2="454.7" stroke="#3a70d8" stroke-width="0.6"/>
<line x1="105.7" y1="452.7" x2="129.2" y2="444.6" stroke="#2a5cbc" stroke-width="0.6"/>
<line x1="134.4" y1="442.9" x2="148.2" y2="438.1" stroke="#58a8e8" stroke-width="0.8"/>
<line x1="153.7" y1="436.2" x2="187.9" y2="424.4" stroke="#2448c8" stroke-width="1.0"/>
<line x1="189.0" y1="424.1" x2="220.4" y2="413.2" stroke="#c8c85a" stroke-width="0.6"/>
<line x1="55.8" y1="471.9" x2="79.2" y2="463.8" stroke="#1c34d8" stroke-width="0.8"/>
<line x1="79.5" y1="463.7" x2="91.0" y2="459.7" stroke="#c8c85a" stroke-width="0.8"/>
<line x1="92.4" y1="459.2" x2="123.0" y2="448.6" stroke="#6ab8e0" stroke-width="0.8"/>
<line x1="127.9" y1="446.9" x2="155.0" y2="437.5" stroke="#6ab8e0" stroke-width="1.0"/>
<line x1="156.0" y1="437.2" x2="187.1" y2="426.4" stroke="#1c34d8" stroke-width="0.6"/>
<line x1="188.5" y1="426.0" x2="214.4" y2="417.0" stroke="#2a5cbc" stroke-width="1.0"/>
<line x1="52.2" y1="475.0" x2="89.5" y2="462.1" stroke="#3f86e0" stroke-width="0.6"/>
<line x1="91.1" y1="461.5" x2="113.4" y2="453.8" stroke="#3f86e0" stroke-width="0.6"/>
<line x1="114.5" y1="453.4" x2="134.3" y2="446.5" stroke="#2a5cbc" stroke-width="0.6"/>
<line x1="134.8" y1="446.3" x2="147.2" y2="442.0" stroke="#3a70d8" stroke-width="0.8"/>
<line x1="151.2" y1="440.6" x2="181.3" y2="430.2" stroke="#2a5cbc" stroke-width="0.6"/>
<line x1="184.8" y1="428.9" x2="220.4" y2="416.6" stroke="#3a70d8" stroke-width="0.8"/>
<line x1="67.3" y1="471.7" x2="75.9" y2="468.7" stroke="#4a9ae0" stroke-width="0.6"/>
<line x1="78.8" y1="467.7" x2="110.2" y2="456.7" stroke="#1a2ad0" stroke-width="0.6"/>
<line x1="116.2" y1="454.6" x2="126.6" y2="451.0" stroke="#c8c85a" stroke-width="0.8"/>
<line x1="131.0" y1="449.4" x2="167.8" y2="436.6" stroke="#58a8e8" stroke-width="0.8"/>
<line x1="169.9" y1="435.9" x2="199.9" y2="425.4" stroke="#1c34d8" stroke-width="0.8"/>
<line x1="205.5" y1="423.4" x2="214.5" y2="420.3" stroke="#3a70d8" stroke-width="1.0"/>
<line x1="61.2" y1="475.7" x2="81.4" y2="468.7" stroke="#3f86e0" stroke-width="1.0"/>
<line x1="81.8" y1="468.5" x2="92.7" y2="464.7" stroke="#1c34d8" stroke-width="0.8"/>
<line x1="98.0" y1="462.9" x2="129.3" y2="451.9" stroke="#86c8e8" stroke-width="1.0"/>
<line x1="133.5" y1="450.4" x2="156.1" y2="442.5" stroke="#3a70d8" stroke-width="1.0"/>
<line x1="156.6" y1="442.3" x2="188.6" y2="431.0" stroke="#3f86e0" stroke-width="0.8"/>
<line x1="192.2" y1="429.8" x2="215.6" y2="421.6" stroke="#2448c8" stroke-width="1.0"/>
<line x1="63.6" y1="476.8" x2="92.7" y2="466.6" stroke="#3a70d8" stroke-width="0.8"/>
<line x1="98.1" y1="464.7" x2="117.9" y2="457.7" stroke="#58a8e8" stroke-width="1.0"/>
<line x1="121.5" y1="456.4" x2="146.1" y2="447.7" stroke="#1a2ad0" stroke-width="1.0"/>
<line x1="151.7" y1="445.8" x2="175.7" y2="437.3" stroke="#2448c8" stroke-width="0.8"/>
<line x1="178.1" y1="436.5" x2="194.1" y2="430.8" stroke="#4a9ae0" stroke-width="0.8"/>
<line x1="198.9" y1="429.1" x2="220.4" y2="421.6" stroke="#2448c8" stroke-width="0.6"/>
<line x1="59.7" y1="480.2" x2="77.8" y2="473.7" stroke="#58a8e8" stroke-width="0.6"/>
<line x1="80.8" y1="472.7" x2="115.6" y2="460.4" stroke="#3f86e0" stroke-width="1.0"/>
<line x1="115.9" y1="460.2" x2="155.3" y2="446.3" stroke="#58a8e8" stroke-width="0.6"/>
<line x1="158.0" y1="445.3" x2="174.8" y2="439.4" stroke="#2448c8" stroke-width="0.8"/>
<line x1="177.1" y1="438.6" x2="201.8" y2="429.8" stroke="#4a9ae0" stroke-width="0.8"/>
<line x1="206.1" y1="428.3" x2="220.4" y2="423.2" stroke="#2a5cbc" stroke-width="0.8"/>
<line x1="47.0" y1="465.2" x2="51.5" y2="483.4" stroke="#2f6fd8" stroke-width="0.5"/>
<line x1="54.1" y1="462.8" x2="58.6" y2="480.9" stroke="#1f3fd0" stroke-width="0.5"/>
<line x1="60.5" y1="460.6" x2="65.0" y2="478.6" stroke="#2f6fd8" stroke-width="0.5"/>
<line x1="67.2" y1="458.4" x2="71.7" y2="476.2" stroke="#2f6fd8" stroke-width="0.5"/>
<line x1="74.4" y1="455.9" x2="78.9" y2="473.7" stroke="#5a9ae0" stroke-width="0.5"/>
<line x1="79.6" y1="454.2" x2="84.1" y2="471.9" stroke="#1f3fd0" stroke-width="0.5"/>
<line x1="87.7" y1="451.5" x2="92.2" y2="469.0" stroke="#1f3fd0" stroke-width="0.5"/>
<line x1="93.6" y1="449.5" x2="98.1" y2="466.9" stroke="#2f6fd8" stroke-width="0.5"/>
<line x1="101.2" y1="446.9" x2="105.7" y2="464.2" stroke="#1f3fd0" stroke-width="0.5"/>
<line x1="109.9" y1="444.0" x2="114.4" y2="461.1" stroke="#5a9ae0" stroke-width="0.5"/>
<line x1="114.8" y1="442.3" x2="119.3" y2="459.3" stroke="#1f3fd0" stroke-width="0.5"/>
<line x1="123.4" y1="439.4" x2="127.9" y2="456.3" stroke="#5a9ae0" stroke-width="0.5"/>
<line x1="130.4" y1="437.1" x2="134.9" y2="453.8" stroke="#2f6fd8" stroke-width="0.5"/>
<line x1="138.4" y1="434.4" x2="142.9" y2="451.0" stroke="#5a9ae0" stroke-width="0.5"/>
<line x1="143.1" y1="432.8" x2="147.6" y2="449.3" stroke="#2f6fd8" stroke-width="0.5"/>
<line x1="150.3" y1="430.4" x2="154.8" y2="446.8" stroke="#5a9ae0" stroke-width="0.5"/>
<line x1="156.5" y1="428.3" x2="161.0" y2="444.5" stroke="#2f6fd8" stroke-width="0.5"/>
<line x1="165.1" y1="425.4" x2="169.6" y2="441.5" stroke="#1f3fd0" stroke-width="0.5"/>
<line x1="171.0" y1="423.4" x2="175.5" y2="439.4" stroke="#2f6fd8" stroke-width="0.5"/>
<line x1="179.8" y1="420.4" x2="184.3" y2="436.3" stroke="#5a9ae0" stroke-width="0.5"/>
<line x1="186.6" y1="418.1" x2="191.1" y2="433.9" stroke="#5a9ae0" stroke-width="0.5"/>
<line x1="193.0" y1="416.0" x2="197.5" y2="431.6" stroke="#1f3fd0" stroke-width="0.5"/>
<line x1="199.7" y1="413.7" x2="204.2" y2="429.2" stroke="#5a9ae0" stroke-width="0.5"/>
<line x1="208.2" y1="410.9" x2="212.7" y2="426.2" stroke="#1f3fd0" stroke-width="0.5"/>
<line x1="213.7" y1="409.0" x2="218.2" y2="424.2" stroke="#5a9ae0" stroke-width="0.5"/>
<line x1="36.0" y1="468.2" x2="220.4" y2="406.0" stroke="#7aa0c8" stroke-width="0.7"/>
<line x1="100.0" y1="447.5" x2="190.0" y2="417.2" stroke="#b8b880" stroke-width="0.5"/>
<polygon points="68.7,477.9 220.4,424.1 220.4,453.2 68.7,501.4" fill="#3a6a5c"/>
<polygon points="68.7,478.9 220.4,425.1 220.4,432.1 68.7,485.5" fill="#4a8074"/>
<polygon points="72.0,479.1 81.1,475.9 81.1,479.8 72.0,483.0" fill="#467e70"/>
<polygon points="83.7,475.0 94.7,471.1 94.7,475.0 83.7,478.8" fill="#356a60"/>
<polygon points="97.2,470.2 107.7,466.5 107.7,470.4 97.2,474.1" fill="#3a5a80"/>
<polygon points="111.2,465.2 124.8,460.4 124.8,464.4 111.2,469.2" fill="#467e70"/>
<polygon points="127.1,459.6 141.0,454.7 141.0,458.7 127.1,463.6" fill="#356a60"/>
<polygon points="144.3,453.5 156.8,449.0 156.8,453.1 144.3,457.5" fill="#356a60"/>
<polygon points="158.8,448.3 172.0,443.6 172.0,447.8 158.8,452.4" fill="#356a60"/>
<polygon points="176.0,442.2 186.3,438.6 186.3,442.7 176.0,446.4" fill="#305e5a"/>
<polygon points="188.4,437.8 200.2,433.6 200.2,437.9 188.4,442.0" fill="#356a60"/>
<polygon points="202.6,432.8 209.2,430.4 209.2,434.7 202.6,437.0" fill="#467e70"/>
<polygon points="211.6,429.6 220.9,426.3 220.9,430.5 211.6,433.8" fill="#305e5a"/>
<line x1="76.0" y1="476.5" x2="76.0" y2="482.5" stroke="#9adada" stroke-width="0.8"/>
<line x1="84.0" y1="473.7" x2="84.0" y2="479.7" stroke="#9adada" stroke-width="1.1"/>
<line x1="92.0" y1="470.8" x2="92.0" y2="476.8" stroke="#9adada" stroke-width="0.8"/>
<line x1="98.0" y1="468.7" x2="98.0" y2="474.7" stroke="#6ac6c6" stroke-width="1.1"/>
<line x1="111.0" y1="464.1" x2="111.0" y2="470.1" stroke="#6ac6c6" stroke-width="0.8"/>
<line x1="118.0" y1="461.6" x2="118.0" y2="467.7" stroke="#c6ecec" stroke-width="0.8"/>
<line x1="126.0" y1="458.8" x2="126.0" y2="464.9" stroke="#6ac6c6" stroke-width="1.4"/>
<line x1="128.5" y1="457.9" x2="128.5" y2="464.0" stroke="#6ac6c6" stroke-width="1.4"/>
<line x1="136.0" y1="455.2" x2="136.0" y2="461.3" stroke="#6ac6c6" stroke-width="1.1"/>
<line x1="148.0" y1="451.0" x2="148.0" y2="457.1" stroke="#c6ecec" stroke-width="1.4"/>
<line x1="157.0" y1="447.8" x2="157.0" y2="454.0" stroke="#6ac6c6" stroke-width="0.8"/>
<line x1="177.8" y1="440.4" x2="177.8" y2="446.6" stroke="#9adada" stroke-width="1.1"/>
<line x1="186.0" y1="437.5" x2="186.0" y2="443.7" stroke="#6ac6c6" stroke-width="1.4"/>
<line x1="194.2" y1="434.6" x2="194.2" y2="440.9" stroke="#c6ecec" stroke-width="1.4"/>
<line x1="201.2" y1="432.1" x2="201.2" y2="438.4" stroke="#6ac6c6" stroke-width="1.4"/>
<line x1="209.0" y1="429.3" x2="209.0" y2="435.7" stroke="#9adada" stroke-width="1.4"/>
<line x1="80.0" y1="475.4" x2="80.0" y2="481.1" stroke="#1f6fd8" stroke-width="0.7"/>
<line x1="95.0" y1="470.1" x2="95.0" y2="475.8" stroke="#1f6fd8" stroke-width="0.7"/>
<line x1="104.0" y1="466.9" x2="104.0" y2="472.6" stroke="#1f6fd8" stroke-width="0.7"/>
<line x1="122.0" y1="460.5" x2="122.0" y2="466.3" stroke="#2a44e0" stroke-width="0.7"/>
<line x1="132.0" y1="456.9" x2="132.0" y2="462.8" stroke="#1f6fd8" stroke-width="0.7"/>
<line x1="143.0" y1="453.0" x2="143.0" y2="458.9" stroke="#2a44e0" stroke-width="0.7"/>
<line x1="152.0" y1="449.8" x2="152.0" y2="455.7" stroke="#1f6fd8" stroke-width="0.7"/>
<line x1="163.0" y1="445.9" x2="163.0" y2="451.8" stroke="#1f6fd8" stroke-width="0.7"/>
<line x1="173.0" y1="442.4" x2="173.0" y2="448.3" stroke="#2a44e0" stroke-width="0.7"/>
<line x1="182.0" y1="439.2" x2="182.0" y2="445.2" stroke="#1f6fd8" stroke-width="0.7"/>
<line x1="190.0" y1="436.4" x2="190.0" y2="442.3" stroke="#2a44e0" stroke-width="0.7"/>
<line x1="197.0" y1="433.9" x2="197.0" y2="439.9" stroke="#2a44e0" stroke-width="0.7"/>
<line x1="205.0" y1="431.0" x2="205.0" y2="437.1" stroke="#1f6fd8" stroke-width="0.7"/>
<line x1="214.0" y1="427.8" x2="214.0" y2="433.9" stroke="#2a44e0" stroke-width="0.7"/>
<polygon points="72.0,486.0 89.5,479.8 89.5,486.8 72.0,492.4" fill="#346252"/>
<polygon points="90.7,479.4 106.3,473.9 106.3,481.5 90.7,486.5" fill="#3a6470"/>
<polygon points="107.0,473.7 118.3,469.7 118.3,477.7 107.0,481.3" fill="#3c705c"/>
<polygon points="119.0,469.4 136.5,463.3 136.5,471.9 119.0,477.5" fill="#42785e"/>
<polygon points="138.0,462.7 159.2,455.3 159.2,464.6 138.0,471.4" fill="#42785e"/>
<polygon points="160.1,455.0 176.7,449.1 176.7,459.1 160.1,464.4" fill="#3c705c"/>
<polygon points="177.7,448.8 200.3,440.8 200.3,451.6 177.7,458.8" fill="#42785e"/>
<polygon points="201.4,440.4 212.9,436.4 212.9,447.6 201.4,451.2" fill="#42785e"/>
<polygon points="214.1,435.9 237.1,427.9 237.1,439.9 214.1,447.2" fill="#3c705c"/>
<line x1="75.9" y1="484.0" x2="75.9" y2="495.1" stroke="#2a58d0" stroke-width="0.5"/>
<line x1="81.8" y1="481.9" x2="81.8" y2="493.3" stroke="#2a58d0" stroke-width="0.5"/>
<line x1="90.0" y1="479.0" x2="90.0" y2="490.6" stroke="#3f8a7a" stroke-width="0.5"/>
<line x1="100.3" y1="475.4" x2="100.3" y2="487.4" stroke="#3f8a7a" stroke-width="0.5"/>
<line x1="109.0" y1="472.4" x2="109.0" y2="484.6" stroke="#3f8a7a" stroke-width="0.5"/>
<line x1="117.4" y1="469.4" x2="117.4" y2="481.9" stroke="#5aa08a" stroke-width="0.5"/>
<line x1="128.3" y1="465.5" x2="128.3" y2="478.5" stroke="#5aa08a" stroke-width="0.5"/>
<line x1="137.5" y1="462.3" x2="137.5" y2="475.6" stroke="#5aa08a" stroke-width="0.5"/>
<line x1="144.8" y1="459.8" x2="144.8" y2="473.2" stroke="#5aa08a" stroke-width="0.5"/>
<line x1="156.5" y1="455.6" x2="156.5" y2="469.5" stroke="#2a58d0" stroke-width="0.5"/>
<line x1="163.5" y1="453.2" x2="163.5" y2="467.3" stroke="#3f8a7a" stroke-width="0.5"/>
<line x1="174.3" y1="449.4" x2="174.3" y2="463.9" stroke="#5aa08a" stroke-width="0.5"/>
<line x1="180.6" y1="447.1" x2="180.6" y2="461.8" stroke="#2a58d0" stroke-width="0.5"/>
<line x1="192.5" y1="443.0" x2="192.5" y2="458.1" stroke="#5aa08a" stroke-width="0.5"/>
<line x1="200.6" y1="440.1" x2="200.6" y2="455.5" stroke="#5aa08a" stroke-width="0.5"/>
<line x1="207.9" y1="437.6" x2="207.9" y2="453.2" stroke="#5aa08a" stroke-width="0.5"/>
<line x1="60.0" y1="481.4" x2="220.4" y2="424.5" stroke="#d8e0b0" stroke-width="1.0"/>
<line x1="68.7" y1="479.5" x2="220.4" y2="425.7" stroke="#2848e0" stroke-width="0.7"/>
<line x1="68.7" y1="485.5" x2="220.4" y2="432.1" stroke="#e6e65a" stroke-width="1.0"/>
<line x1="68.7" y1="484.5" x2="220.4" y2="431.1" stroke="#eef0c8" stroke-width="0.5"/>
<line x1="68.7" y1="486.8" x2="220.4" y2="433.4" stroke="#2a4ae0" stroke-width="0.6"/>
<line x1="68.7" y1="490.0" x2="220.4" y2="439.2" stroke="#2a50d8" stroke-width="0.6" stroke-dasharray="7 2 3 2"/>
<line x1="68.7" y1="494.4" x2="220.4" y2="446.2" stroke="#d8dc50" stroke-width="0.9"/>
<line x1="68.7" y1="496.0" x2="220.4" y2="447.8" stroke="#5a8a5a" stroke-width="0.6"/>
<line x1="68.7" y1="498.3" x2="220.4" y2="450.0" stroke="#c85a8a" stroke-width="0.5"/>
<line x1="68.7" y1="501.4" x2="220.4" y2="453.2" stroke="#e818d8" stroke-width="1.5"/>
<line x1="68.7" y1="500.0" x2="220.4" y2="451.8" stroke="#b8c040" stroke-width="0.6"/>
<line x1="138.3" y1="448.5" x2="138.3" y2="480.4" stroke="#1f4fe0" stroke-width="0.9"/>
<line x1="169.9" y1="438.6" x2="169.9" y2="469.8" stroke="#f01818" stroke-width="1.3"/>
<line x1="150.0" y1="441.0" x2="170.0" y2="437.4" stroke="#e02020" stroke-width="0.9"/>
<line x1="220.4" y1="426.4" x2="220.4" y2="453.5" stroke="#2040e0" stroke-width="0.9"/>
<circle cx="104.5" cy="451.2" r="0.9" fill="#e8f0f8"/>
<circle cx="114.5" cy="448.3" r="0.9" fill="#e8f0f8"/>
<circle cx="171.2" cy="429.3" r="0.9" fill="#e8f0f8"/>
<circle cx="181.6" cy="430.3" r="0.9" fill="#e8f0f8"/>
<polygon points="220.4,423.2 232.0,426.0 232.0,455.0 220.4,454.6" fill="#5a7448"/>
<polygon points="232.0,423.0 240.1,420.2 240.1,450.7 232.0,455.0" fill="#66783a"/>
<polygon points="221.4,427.5 225.6,428.0 225.6,432.0 221.4,431.5" fill="#34483a"/>
<polygon points="227.0,428.2 231.0,428.7 231.0,432.7 227.0,432.2" fill="#3a4c30"/>
<polygon points="221.4,434.5 225.6,435.0 225.6,439.0 221.4,438.5" fill="#34483a"/>
<polygon points="227.0,435.2 231.0,435.7 231.0,439.7 227.0,439.2" fill="#3a4c30"/>
<polygon points="221.4,441.5 225.6,442.0 225.6,446.0 221.4,445.5" fill="#34483a"/>
<polygon points="227.0,442.2 231.0,442.7 231.0,446.7 227.0,446.2" fill="#3a4c30"/>
<polygon points="220.4,423.2 225.0,420.4 240.1,420.2 232.0,423.6" fill="#5a86a0"/>
<line x1="220.4" y1="430.5" x2="232.0" y2="432.0" stroke="#e6e65a" stroke-width="0.7"/>
<line x1="232.0" y1="432.0" x2="240.1" y2="428.5" stroke="#d8dc50" stroke-width="0.7"/>
<line x1="220.4" y1="437.5" x2="232.0" y2="439.0" stroke="#d8dc50" stroke-width="0.7"/>
<line x1="232.0" y1="439.0" x2="240.1" y2="435.5" stroke="#c8c840" stroke-width="0.7"/>
<line x1="220.4" y1="444.5" x2="232.0" y2="446.0" stroke="#d8dc50" stroke-width="0.7"/>
<line x1="232.0" y1="446.0" x2="240.1" y2="442.5" stroke="#c8c840" stroke-width="0.7"/>
<line x1="220.4" y1="450.5" x2="232.0" y2="452.0" stroke="#e6e65a" stroke-width="0.7"/>
<line x1="232.0" y1="452.0" x2="240.1" y2="448.5" stroke="#c8c840" stroke-width="0.7"/>
<line x1="223.2" y1="424.0" x2="223.2" y2="454.6" stroke="#9adada" stroke-width="0.6"/>
<line x1="226.4" y1="424.0" x2="226.4" y2="454.6" stroke="#9adada" stroke-width="0.6"/>
<line x1="229.4" y1="424.0" x2="229.4" y2="454.6" stroke="#9adada" stroke-width="0.6"/>
<line x1="234.5" y1="422.6" x2="234.5" y2="453.0" stroke="#2e3c14" stroke-width="1.1"/>
<line x1="237.2" y1="422.6" x2="237.2" y2="453.0" stroke="#2e3c14" stroke-width="1.1"/>
<line x1="232.0" y1="422.9" x2="232.0" y2="454.2" stroke="#f02020" stroke-width="1.1"/>
<line x1="236.0" y1="430.0" x2="236.0" y2="448.0" stroke="#d06020" stroke-width="0.6"/>
<polygon points="220.4,453.4 232.0,454.2 240.1,450.0 240.1,451.8 232.0,456.2 220.4,455.4" fill="#e0e0d8"/>
<line x1="210.0" y1="456.2" x2="222.0" y2="453.9" stroke="#e818d8" stroke-width="1.6"/>
<polygon points="15.7,475.1 54.5,483.3 54.5,513.9 15.7,507.9" fill="#587c58"/>
<polygon points="54.5,483.3 68.7,477.3 68.7,505.7 54.5,513.9" fill="#4c7258"/>
<polygon points="17.5,478.8 28.5,481.0 28.5,491.3 17.5,489.2" fill="#34503c"/>
<polygon points="17.5,491.8 28.5,493.8 28.5,507.3 17.5,505.6" fill="#3c5c40"/>
<polygon points="31.5,481.6 38.5,483.1 38.5,493.2 31.5,491.8" fill="#34503c"/>
<polygon points="31.5,494.4 38.5,495.7 38.5,508.9 31.5,507.8" fill="#3c5c40"/>
<polygon points="41.5,483.7 52.5,485.9 52.5,495.8 41.5,493.7" fill="#34503c"/>
<polygon points="41.5,496.2 52.5,498.2 52.5,511.1 41.5,509.4" fill="#3c5c40"/>
<line x1="15.7" y1="475.1" x2="54.5" y2="483.3" stroke="#28c8b8" stroke-width="1.2"/>
<line x1="54.5" y1="483.3" x2="68.7" y2="477.3" stroke="#28c8b8" stroke-width="0.96"/>
<line x1="15.7" y1="477.4" x2="54.5" y2="485.4" stroke="#e6e65a" stroke-width="0.7"/>
<line x1="54.5" y1="485.4" x2="68.7" y2="479.3" stroke="#e6e65a" stroke-width="0.5599999999999999"/>
<line x1="15.7" y1="484.9" x2="54.5" y2="492.5" stroke="#d85820" stroke-width="0.5"/>
<line x1="54.5" y1="492.5" x2="68.7" y2="485.8" stroke="#d85820" stroke-width="0.4"/>
<line x1="15.7" y1="489.9" x2="54.5" y2="497.1" stroke="#e6e65a" stroke-width="0.9"/>
<line x1="54.5" y1="497.1" x2="68.7" y2="490.1" stroke="#e6e65a" stroke-width="0.7200000000000001"/>
<line x1="15.7" y1="491.5" x2="54.5" y2="498.6" stroke="#3a60d8" stroke-width="0.6"/>
<line x1="54.5" y1="498.6" x2="68.7" y2="491.5" stroke="#3a60d8" stroke-width="0.48"/>
<line x1="15.7" y1="495.4" x2="54.5" y2="502.3" stroke="#d8dc50" stroke-width="0.5"/>
<line x1="54.5" y1="502.3" x2="68.7" y2="494.9" stroke="#d8dc50" stroke-width="0.4"/>
<line x1="15.7" y1="506.3" x2="54.5" y2="512.4" stroke="#e6e65a" stroke-width="0.8"/>
<line x1="54.5" y1="512.4" x2="68.7" y2="504.3" stroke="#e6e65a" stroke-width="0.6400000000000001"/>
<line x1="15.7" y1="507.9" x2="54.5" y2="513.9" stroke="#e8e8e0" stroke-width="1.0"/>
<line x1="54.5" y1="513.9" x2="68.7" y2="505.7" stroke="#e8e8e0" stroke-width="0.8"/>
<line x1="15.7" y1="475.1" x2="15.7" y2="507.9" stroke="#c8d890" stroke-width="0.7"/>
<line x1="29.8" y1="478.1" x2="29.8" y2="510.1" stroke="#3ab8b0" stroke-width="1.5"/>
<line x1="39.8" y1="480.2" x2="39.8" y2="511.6" stroke="#3ab8b0" stroke-width="1.5"/>
<line x1="54.5" y1="483.3" x2="54.5" y2="513.9" stroke="#d8e0a0" stroke-width="0.8"/>
<line x1="22.0" y1="476.4" x2="22.0" y2="508.9" stroke="#4a78c8" stroke-width="0.5"/>
<line x1="47.0" y1="481.7" x2="47.0" y2="512.7" stroke="#4a78c8" stroke-width="0.5"/>
<line x1="61.0" y1="480.6" x2="61.0" y2="510.1" stroke="#6ac6c6" stroke-width="0.8"/>
<line x1="65.5" y1="478.7" x2="65.5" y2="507.5" stroke="#9adada" stroke-width="0.7"/>
<line x1="68.7" y1="477.3" x2="68.7" y2="505.7" stroke="#c8d890" stroke-width="0.6"/>
<line x1="61.4" y1="482.8" x2="62.5" y2="483.0" stroke="#e6e65a" stroke-width="0.7"/>
<line x1="36.4" y1="491.2" x2="38.3" y2="491.3" stroke="#2848e0" stroke-width="0.7"/>
<line x1="27.0" y1="496.6" x2="28.8" y2="496.4" stroke="#d87020" stroke-width="0.7"/>
<line x1="51.1" y1="504.5" x2="53.1" y2="504.3" stroke="#d87020" stroke-width="0.7"/>
<line x1="48.7" y1="488.6" x2="50.7" y2="489.0" stroke="#e03020" stroke-width="0.7"/>
<line x1="41.1" y1="479.7" x2="42.8" y2="479.9" stroke="#d87020" stroke-width="0.7"/>
<line x1="41.1" y1="484.3" x2="42.0" y2="484.1" stroke="#2848e0" stroke-width="0.7"/>
<line x1="66.5" y1="505.0" x2="67.4" y2="504.7" stroke="#28c8b8" stroke-width="0.7"/>
<line x1="20.9" y1="481.7" x2="22.1" y2="481.7" stroke="#e6e65a" stroke-width="0.7"/>
<line x1="38.5" y1="495.8" x2="39.3" y2="496.1" stroke="#2848e0" stroke-width="0.7"/>
<line x1="26.1" y1="491.7" x2="27.8" y2="491.7" stroke="#2848e0" stroke-width="0.7"/>
<line x1="47.2" y1="481.7" x2="49.0" y2="481.6" stroke="#e03020" stroke-width="0.7"/>
<line x1="57.1" y1="498.7" x2="58.9" y2="498.9" stroke="#28c8b8" stroke-width="0.7"/>
<line x1="45.5" y1="484.3" x2="47.0" y2="484.3" stroke="#e6e65a" stroke-width="0.7"/>
<line x1="31.0" y1="482.3" x2="32.7" y2="482.1" stroke="#28c8b8" stroke-width="0.7"/>
<line x1="23.7" y1="488.2" x2="25.1" y2="488.2" stroke="#28c8b8" stroke-width="0.7"/>
<line x1="55.3" y1="490.4" x2="56.9" y2="490.1" stroke="#e6e65a" stroke-width="0.7"/>
<line x1="32.1" y1="481.8" x2="34.0" y2="482.3" stroke="#d87020" stroke-width="0.7"/>
<line x1="19.5" y1="486.6" x2="21.4" y2="486.6" stroke="#2848e0" stroke-width="0.7"/>
<line x1="50.0" y1="494.9" x2="51.4" y2="495.0" stroke="#28c8b8" stroke-width="0.7"/>
<line x1="49.1" y1="498.6" x2="50.8" y2="499.1" stroke="#e03020" stroke-width="0.7"/>
<line x1="22.7" y1="482.0" x2="23.8" y2="482.1" stroke="#d87020" stroke-width="0.7"/>
<line x1="19.5" y1="484.5" x2="20.8" y2="484.3" stroke="#e6e65a" stroke-width="0.7"/>
<line x1="30.8" y1="488.5" x2="32.2" y2="488.6" stroke="#d87020" stroke-width="0.7"/>
<line x1="45.4" y1="506.9" x2="47.0" y2="507.2" stroke="#e03020" stroke-width="0.7"/>
<line x1="44.5" y1="497.7" x2="46.4" y2="497.7" stroke="#2848e0" stroke-width="0.7"/>
<ellipse cx="22.1" cy="499.0" rx="4.3" ry="5.6" fill="none" stroke="#e8e000" stroke-width="2.6" transform="rotate(-8 22.1 499.0)"/>
<ellipse cx="22.5" cy="499.0" rx="2.6" ry="3.8" fill="#4a4a6a" opacity="0.7"/>
<line x1="21.1" y1="501.2" x2="23.7" y2="500.4" stroke="#e040a0" stroke-width="0.7"/>
<ellipse cx="45.5" cy="502.7" rx="4.3" ry="5.6" fill="none" stroke="#e8e000" stroke-width="2.6" transform="rotate(-8 45.5 502.7)"/>
<ellipse cx="45.9" cy="502.7" rx="2.6" ry="3.8" fill="#4a4a6a" opacity="0.7"/>
<line x1="44.5" y1="504.9" x2="47.1" y2="504.1" stroke="#e040a0" stroke-width="0.7"/>
<line x1="57.5" y1="482.2" x2="78.6" y2="474.4" stroke="#f01818" stroke-width="1.5"/>
<line x1="28.0" y1="473.6" x2="36.0" y2="472.2" stroke="#e02020" stroke-width="0.8"/>
<line x1="9.0" y1="468.6" x2="13.0" y2="469.6" stroke="#e02020" stroke-width="0.9"/>
<path d="M81.5 467.4l8 9.4M89.6 467.2l-7.2 9.8" fill="none" stroke="#666" stroke-width="1.3"/>
<polygon points="15.7,475.1 33.0,467.2 72.0,470.5 68.7,477.3 54.5,483.3" fill="#3f6fa8"/>
<line x1="15.7" y1="475.1" x2="54.5" y2="483.3" stroke="#28c8b8" stroke-width="1.2"/>
<line x1="54.5" y1="483.3" x2="68.7" y2="477.3" stroke="#9ad0d0" stroke-width="0.8"/>
<polygon points="19.1,467.6 30.0,470.0 30.0,476.5 19.1,474.1" fill="#7fa2b0"/><polygon points="30.0,470.0 43.3,465.7 43.3,472.2 30.0,476.5" fill="#8db0bc"/><polygon points="19.1,467.6 32.0,463.6 43.3,465.7 30.0,470.0" fill="#a6c8d4"/><polygon points="22.5,467.9 31.7,465.0 39.9,466.5 30.3,469.6" fill="#4c6c7a"/><line x1="30.0" y1="470.0" x2="30.0" y2="476.5" stroke="#c8e4ec" stroke-width="0.5"/>
<polygon points="41.0,473.5 52.0,476.5 52.0,483.0 41.0,480.0" fill="#7fa2b0"/><polygon points="52.0,476.5 65.7,471.5 65.7,478.0 52.0,483.0" fill="#8db0bc"/><polygon points="41.0,473.5 55.0,469.0 65.7,471.5 52.0,476.5" fill="#a6c8d4"/><polygon points="44.5,473.8 54.6,470.5 62.3,472.3 52.4,475.9" fill="#4c6c7a"/><line x1="52.0" y1="476.5" x2="52.0" y2="483.0" stroke="#c8e4ec" stroke-width="0.5"/>
<polygon points="114.4,437.2 123.0,439.5 123.0,444.7 114.4,442.4" fill="#7fa2b0"/><polygon points="123.0,439.5 132.3,435.3 132.3,440.5 123.0,444.7" fill="#8db0bc"/><polygon points="114.4,437.2 123.5,433.3 132.3,435.3 123.0,439.5" fill="#a6c8d4"/><polygon points="116.9,437.5 123.4,434.6 129.8,436.1 123.1,439.1" fill="#4c6c7a"/><line x1="123.0" y1="439.5" x2="123.0" y2="444.7" stroke="#c8e4ec" stroke-width="0.5"/>
<polygon points="135.4,441.5 143.5,443.5 143.5,448.1 135.4,446.1" fill="#7fa2b0"/><polygon points="143.5,443.5 152.2,439.8 152.2,444.4 143.5,448.1" fill="#8db0bc"/><polygon points="135.4,441.5 144.5,437.9 152.2,439.8 143.5,443.5" fill="#a6c8d4"/><polygon points="137.8,441.8 144.3,439.2 149.9,440.5 143.6,443.2" fill="#4c6c7a"/><line x1="143.5" y1="443.5" x2="143.5" y2="448.1" stroke="#c8e4ec" stroke-width="0.5"/>
<polygon points="189.6,411.0 198.5,413.5 198.5,418.7 189.6,416.2" fill="#7fa2b0"/><polygon points="198.5,413.5 210.0,408.0 210.0,413.2 198.5,418.7" fill="#8db0bc"/><polygon points="189.6,411.0 201.5,406.0 210.0,408.0 198.5,413.5" fill="#a6c8d4"/><polygon points="192.5,411.1 201.1,407.5 207.2,409.0 198.9,412.9" fill="#4c6c7a"/><line x1="198.5" y1="413.5" x2="198.5" y2="418.7" stroke="#c8e4ec" stroke-width="0.5"/>
<polygon points="212.3,413.6 223.6,416.5 223.6,422.7 212.3,419.8" fill="#7fa2b0"/><polygon points="223.6,416.5 236.1,412.4 236.1,418.6 223.6,422.7" fill="#8db0bc"/><polygon points="212.3,413.6 225.0,409.5 236.1,412.4 223.6,416.5" fill="#a6c8d4"/><polygon points="215.6,413.9 224.8,411.0 232.8,413.1 223.8,416.0" fill="#4c6c7a"/><line x1="223.6" y1="416.5" x2="223.6" y2="422.7" stroke="#c8e4ec" stroke-width="0.5"/>
<line x1="113.0" y1="443.5" x2="139.0" y2="448.6" stroke="#2040e0" stroke-width="0.9"/>
<line x1="128.0" y1="443.0" x2="139.0" y2="448.6" stroke="#2a60e0" stroke-width="0.7"/>
<line x1="56.7" y1="433.5" x2="56.7" y2="481.5" stroke="#1f6fe0" stroke-width="1.2"/>
<line x1="15.0" y1="464.4" x2="18.6" y2="465.6" stroke="#f01010" stroke-width="1.3"/>
<line x1="43.0" y1="455.6" x2="47.0" y2="456.6" stroke="#f01010" stroke-width="1.3"/>
<line x1="87.2" y1="439.4" x2="92.5" y2="441.2" stroke="#f01010" stroke-width="1.3"/>
<line x1="115.7" y1="430.6" x2="121.0" y2="431.9" stroke="#f01010" stroke-width="1.3"/>
<line x1="185.0" y1="408.4" x2="189.0" y2="407.9" stroke="#f01010" stroke-width="1.3"/>
<line x1="212.3" y1="405.6" x2="214.6" y2="406.6" stroke="#f01010" stroke-width="1.3"/>
<line x1="223.6" y1="406.7" x2="225.6" y2="408.0" stroke="#f01010" stroke-width="1.3"/>
<line x1="235.5" y1="415.8" x2="242.5" y2="416.9" stroke="#f01010" stroke-width="1.3"/>
<line x1="60.0" y1="476.0" x2="64.0" y2="475.2" stroke="#f01010" stroke-width="1.3"/>
<line x1="95.0" y1="463.5" x2="100.0" y2="462.8" stroke="#f01010" stroke-width="1.3"/>
<line x1="141.0" y1="437.0" x2="146.0" y2="436.4" stroke="#f01010" stroke-width="1.3"/>
<line x1="74.0" y1="452.4" x2="78.0" y2="452.0" stroke="#86e81c" stroke-width="1.3"/>
<line x1="97.4" y1="456.0" x2="101.4" y2="455.4" stroke="#86e81c" stroke-width="1.3"/>
<line x1="182.6" y1="416.8" x2="189.6" y2="416.2" stroke="#86e81c" stroke-width="1.3"/>
<line x1="198.0" y1="410.2" x2="200.0" y2="409.8" stroke="#86e81c" stroke-width="1.3"/>
<line x1="222.0" y1="413.6" x2="224.0" y2="413.3" stroke="#86e81c" stroke-width="1.3"/>
<line x1="217.0" y1="412.0" x2="218.6" y2="411.6" stroke="#86e81c" stroke-width="1.3"/>
<line x1="36.0" y1="464.6" x2="39.0" y2="464.2" stroke="#86e81c" stroke-width="1.3"/>
<line x1="29.0" y1="468.4" x2="31.5" y2="468.0" stroke="#86e81c" stroke-width="1.3"/>
<line x1="46.0" y1="470.6" x2="49.5" y2="470.2" stroke="#86e81c" stroke-width="1.3"/>
<line x1="55.0" y1="472.6" x2="57.0" y2="472.4" stroke="#86e81c" stroke-width="1.3"/>
<line x1="120.5" y1="437.0" x2="122.5" y2="436.7" stroke="#86e81c" stroke-width="1.3"/>
<line x1="117.0" y1="438.5" x2="118.5" y2="438.2" stroke="#86e81c" stroke-width="1.3"/>
<line x1="153.5" y1="429.8" x2="157.0" y2="429.4" stroke="#86e81c" stroke-width="1.3"/>
<line x1="160.5" y1="428.0" x2="163.0" y2="427.6" stroke="#86e81c" stroke-width="1.3"/>
<line x1="62.0" y1="466.4" x2="64.0" y2="466.0" stroke="#86e81c" stroke-width="1.3"/>
</g><g id="section">
<line x1="464.6" y1="388.2" x2="454.2" y2="544.2" stroke="#3a9c9c" stroke-width="0.7"/><line x1="465.0" y1="394.2" x2="465.0" y2="544.2" stroke="#3a9c9c" stroke-width="0.5"/><line x1="464.2" y1="394.2" x2="465.9" y2="394.2" stroke="#3a9c9c" stroke-width="0.6"/><line x1="463.8" y1="400.2" x2="465.9" y2="400.2" stroke="#3a9c9c" stroke-width="0.6"/><line x1="463.4" y1="406.2" x2="465.9" y2="406.2" stroke="#3a9c9c" stroke-width="0.6"/><line x1="463.0" y1="412.2" x2="465.9" y2="412.2" stroke="#3a9c9c" stroke-width="0.6"/><line x1="462.6" y1="418.2" x2="465.9" y2="418.2" stroke="#3a9c9c" stroke-width="0.6"/><line x1="462.2" y1="424.2" x2="465.9" y2="424.2" stroke="#3a9c9c" stroke-width="0.6"/><line x1="461.8" y1="430.2" x2="465.9" y2="430.2" stroke="#3a9c9c" stroke-width="0.6"/><line x1="461.4" y1="436.2" x2="465.9" y2="436.2" stroke="#3a9c9c" stroke-width="0.6"/><line x1="461.0" y1="442.2" x2="465.9" y2="442.2" stroke="#3a9c9c" stroke-width="0.6"/><line x1="460.6" y1="448.2" x2="465.9" y2="448.2" stroke="#3a9c9c" stroke-width="0.6"/><line x1="460.2" y1="454.2" x2="465.9" y2="454.2" stroke="#3a9c9c" stroke-width="0.6"/><line x1="459.8" y1="460.2" x2="465.9" y2="460.2" stroke="#3a9c9c" stroke-width="0.6"/><line x1="459.4" y1="466.2" x2="465.9" y2="466.2" stroke="#3a9c9c" stroke-width="0.6"/><line x1="459.0" y1="472.2" x2="465.9" y2="472.2" stroke="#3a9c9c" stroke-width="0.6"/><line x1="458.6" y1="478.2" x2="465.9" y2="478.2" stroke="#3a9c9c" stroke-width="0.6"/><line x1="458.2" y1="484.2" x2="465.9" y2="484.2" stroke="#3a9c9c" stroke-width="0.6"/><line x1="457.8" y1="490.2" x2="465.9" y2="490.2" stroke="#3a9c9c" stroke-width="0.6"/><line x1="457.4" y1="496.2" x2="465.9" y2="496.2" stroke="#3a9c9c" stroke-width="0.6"/><line x1="457.0" y1="502.2" x2="465.9" y2="502.2" stroke="#3a9c9c" stroke-width="0.6"/><line x1="456.6" y1="508.2" x2="465.9" y2="508.2" stroke="#3a9c9c" stroke-width="0.6"/><line x1="456.2" y1="514.2" x2="465.9" y2="514.2" stroke="#3a9c9c" stroke-width="0.6"/><line x1="455.8" y1="520.2" x2="465.9" y2="520.2" stroke="#3a9c9c" stroke-width="0.6"/><line x1="455.4" y1="526.2" x2="465.9" y2="526.2" stroke="#3a9c9c" stroke-width="0.6"/><line x1="455.0" y1="532.2" x2="465.9" y2="532.2" stroke="#3a9c9c" stroke-width="0.6"/><line x1="454.6" y1="538.2" x2="465.9" y2="538.2" stroke="#3a9c9c" stroke-width="0.6"/><line x1="454.2" y1="544.2" x2="465.9" y2="544.2" stroke="#3a9c9c" stroke-width="0.6"/>
<line x1="628.4" y1="387.9" x2="639.1" y2="544.2" stroke="#3a9c9c" stroke-width="0.7"/><line x1="628.1" y1="393.9" x2="628.1" y2="544.2" stroke="#3a9c9c" stroke-width="0.5"/><line x1="628.8" y1="393.9" x2="627.2" y2="393.9" stroke="#3a9c9c" stroke-width="0.6"/><line x1="629.2" y1="399.9" x2="627.2" y2="399.9" stroke="#3a9c9c" stroke-width="0.6"/><line x1="629.6" y1="405.9" x2="627.2" y2="405.9" stroke="#3a9c9c" stroke-width="0.6"/><line x1="630.0" y1="411.9" x2="627.2" y2="411.9" stroke="#3a9c9c" stroke-width="0.6"/><line x1="630.5" y1="418.0" x2="627.2" y2="418.0" stroke="#3a9c9c" stroke-width="0.6"/><line x1="630.9" y1="424.0" x2="627.2" y2="424.0" stroke="#3a9c9c" stroke-width="0.6"/><line x1="631.3" y1="430.0" x2="627.2" y2="430.0" stroke="#3a9c9c" stroke-width="0.6"/><line x1="631.7" y1="436.0" x2="627.2" y2="436.0" stroke="#3a9c9c" stroke-width="0.6"/><line x1="632.1" y1="442.0" x2="627.2" y2="442.0" stroke="#3a9c9c" stroke-width="0.6"/><line x1="632.5" y1="448.0" x2="627.2" y2="448.0" stroke="#3a9c9c" stroke-width="0.6"/><line x1="632.9" y1="454.0" x2="627.2" y2="454.0" stroke="#3a9c9c" stroke-width="0.6"/><line x1="633.3" y1="460.0" x2="627.2" y2="460.0" stroke="#3a9c9c" stroke-width="0.6"/><line x1="633.8" y1="466.1" x2="627.2" y2="466.1" stroke="#3a9c9c" stroke-width="0.6"/><line x1="634.2" y1="472.1" x2="627.2" y2="472.1" stroke="#3a9c9c" stroke-width="0.6"/><line x1="634.6" y1="478.1" x2="627.2" y2="478.1" stroke="#3a9c9c" stroke-width="0.6"/><line x1="635.0" y1="484.1" x2="627.2" y2="484.1" stroke="#3a9c9c" stroke-width="0.6"/><line x1="635.4" y1="490.1" x2="627.2" y2="490.1" stroke="#3a9c9c" stroke-width="0.6"/><line x1="635.8" y1="496.1" x2="627.2" y2="496.1" stroke="#3a9c9c" stroke-width="0.6"/><line x1="636.2" y1="502.1" x2="627.2" y2="502.1" stroke="#3a9c9c" stroke-width="0.6"/><line x1="636.6" y1="508.1" x2="627.2" y2="508.1" stroke="#3a9c9c" stroke-width="0.6"/><line x1="637.0" y1="514.1" x2="627.2" y2="514.1" stroke="#3a9c9c" stroke-width="0.6"/><line x1="637.5" y1="520.2" x2="627.2" y2="520.2" stroke="#3a9c9c" stroke-width="0.6"/><line x1="637.9" y1="526.2" x2="627.2" y2="526.2" stroke="#3a9c9c" stroke-width="0.6"/><line x1="638.3" y1="532.2" x2="627.2" y2="532.2" stroke="#3a9c9c" stroke-width="0.6"/><line x1="638.7" y1="538.2" x2="627.2" y2="538.2" stroke="#3a9c9c" stroke-width="0.6"/><line x1="639.1" y1="544.2" x2="627.2" y2="544.2" stroke="#3a9c9c" stroke-width="0.6"/>
<line x1="466.9" y1="387.3" x2="466.9" y2="544.5" stroke="#e0820a" stroke-width="1.9"/>
<line x1="626.2" y1="387.9" x2="626.2" y2="544.2" stroke="#e0820a" stroke-width="1.7"/>
<line x1="470.3" y1="400.2" x2="621.6" y2="400.2" stroke="#3a9c9c" stroke-width="0.6"/>
<line x1="470.3" y1="401.9" x2="621.6" y2="401.9" stroke="#3a9c9c" stroke-width="0.6"/>
<line x1="478.8" y1="400.2" x2="478.8" y2="405.4" stroke="#3a9c9c" stroke-width="0.6"/>
<line x1="485.9" y1="400.2" x2="485.9" y2="405.4" stroke="#3a9c9c" stroke-width="0.6"/>
<line x1="492.9" y1="400.2" x2="492.9" y2="405.4" stroke="#3a9c9c" stroke-width="0.6"/>
<line x1="500.0" y1="400.2" x2="500.0" y2="405.4" stroke="#3a9c9c" stroke-width="0.6"/>
<line x1="507.0" y1="400.2" x2="507.0" y2="405.4" stroke="#3a9c9c" stroke-width="0.6"/>
<line x1="514.1" y1="400.2" x2="514.1" y2="405.4" stroke="#3a9c9c" stroke-width="0.6"/>
<line x1="521.1" y1="400.2" x2="521.1" y2="405.4" stroke="#3a9c9c" stroke-width="0.6"/>
<line x1="528.1" y1="400.2" x2="528.1" y2="405.4" stroke="#3a9c9c" stroke-width="0.6"/>
<line x1="535.2" y1="400.2" x2="535.2" y2="405.4" stroke="#3a9c9c" stroke-width="0.6"/>
<line x1="542.2" y1="400.2" x2="542.2" y2="405.4" stroke="#3a9c9c" stroke-width="0.6"/>
<line x1="549.3" y1="400.2" x2="549.3" y2="405.4" stroke="#3a9c9c" stroke-width="0.6"/>
<line x1="556.3" y1="400.2" x2="556.3" y2="405.4" stroke="#3a9c9c" stroke-width="0.6"/>
<line x1="563.4" y1="400.2" x2="563.4" y2="405.4" stroke="#3a9c9c" stroke-width="0.6"/>
<line x1="570.4" y1="400.2" x2="570.4" y2="405.4" stroke="#3a9c9c" stroke-width="0.6"/>
<line x1="577.5" y1="400.2" x2="577.5" y2="405.4" stroke="#3a9c9c" stroke-width="0.6"/>
<line x1="584.5" y1="400.2" x2="584.5" y2="405.4" stroke="#3a9c9c" stroke-width="0.6"/>
<line x1="591.6" y1="400.2" x2="591.6" y2="405.4" stroke="#3a9c9c" stroke-width="0.6"/>
<line x1="598.6" y1="400.2" x2="598.6" y2="405.4" stroke="#3a9c9c" stroke-width="0.6"/>
<line x1="605.7" y1="400.2" x2="605.7" y2="405.4" stroke="#3a9c9c" stroke-width="0.6"/>
<line x1="612.7" y1="400.2" x2="612.7" y2="405.4" stroke="#3a9c9c" stroke-width="0.6"/>
<line x1="619.8" y1="400.2" x2="619.8" y2="405.4" stroke="#3a9c9c" stroke-width="0.6"/>
<rect x="472.9" y="434.1" width="147.0" height="5.6" fill="#1d4649"/>
<rect x="472.9" y="439.7" width="147.0" height="9.0" fill="#193338"/>
<line x1="472.9" y1="434.1" x2="619.9" y2="434.1" stroke="#3a9c9c" stroke-width="0.55"/>
<line x1="472.9" y1="439.7" x2="619.9" y2="439.7" stroke="#3a9c9c" stroke-width="0.55"/>
<line x1="472.9" y1="442.1" x2="619.9" y2="442.1" stroke="#3a9c9c" stroke-width="0.55"/>
<line x1="472.9" y1="444.4" x2="619.9" y2="444.4" stroke="#3a9c9c" stroke-width="0.55"/>
<line x1="472.9" y1="446.5" x2="619.9" y2="446.5" stroke="#3a9c9c" stroke-width="0.55"/>
<line x1="478.8" y1="434.1" x2="478.8" y2="448.8" stroke="#3a9c9c" stroke-width="0.6"/>
<line x1="485.9" y1="434.1" x2="485.9" y2="448.8" stroke="#3a9c9c" stroke-width="0.6"/>
<line x1="492.9" y1="434.1" x2="492.9" y2="448.8" stroke="#3a9c9c" stroke-width="0.6"/>
<line x1="500.0" y1="434.1" x2="500.0" y2="448.8" stroke="#3a9c9c" stroke-width="0.6"/>
<line x1="507.0" y1="434.1" x2="507.0" y2="448.8" stroke="#3a9c9c" stroke-width="0.6"/>
<line x1="514.1" y1="434.1" x2="514.1" y2="448.8" stroke="#3a9c9c" stroke-width="0.6"/>
<line x1="521.1" y1="434.1" x2="521.1" y2="448.8" stroke="#3a9c9c" stroke-width="0.6"/>
<line x1="528.1" y1="434.1" x2="528.1" y2="448.8" stroke="#3a9c9c" stroke-width="0.6"/>
<line x1="535.2" y1="434.1" x2="535.2" y2="448.8" stroke="#3a9c9c" stroke-width="0.6"/>
<line x1="542.2" y1="434.1" x2="542.2" y2="448.8" stroke="#3a9c9c" stroke-width="0.6"/>
<line x1="549.3" y1="434.1" x2="549.3" y2="448.8" stroke="#3a9c9c" stroke-width="0.6"/>
<line x1="556.3" y1="434.1" x2="556.3" y2="448.8" stroke="#3a9c9c" stroke-width="0.6"/>
<line x1="563.4" y1="434.1" x2="563.4" y2="448.8" stroke="#3a9c9c" stroke-width="0.6"/>
<line x1="570.4" y1="434.1" x2="570.4" y2="448.8" stroke="#3a9c9c" stroke-width="0.6"/>
<line x1="577.5" y1="434.1" x2="577.5" y2="448.8" stroke="#3a9c9c" stroke-width="0.6"/>
<line x1="584.5" y1="434.1" x2="584.5" y2="448.8" stroke="#3a9c9c" stroke-width="0.6"/>
<line x1="591.6" y1="434.1" x2="591.6" y2="448.8" stroke="#3a9c9c" stroke-width="0.6"/>
<line x1="598.6" y1="434.1" x2="598.6" y2="448.8" stroke="#3a9c9c" stroke-width="0.6"/>
<line x1="605.7" y1="434.1" x2="605.7" y2="448.8" stroke="#3a9c9c" stroke-width="0.6"/>
<line x1="612.7" y1="434.1" x2="612.7" y2="448.8" stroke="#3a9c9c" stroke-width="0.6"/>
<line x1="619.8" y1="434.1" x2="619.8" y2="448.8" stroke="#3a9c9c" stroke-width="0.6"/>
<line x1="470.3" y1="494.9" x2="621.6" y2="494.9" stroke="#3a9c9c" stroke-width="0.6"/>
<line x1="470.3" y1="503.9" x2="621.6" y2="503.9" stroke="#3a9c9c" stroke-width="0.6"/>
<line x1="478.8" y1="494.9" x2="478.8" y2="496.6" stroke="#6cc4c4" stroke-width="0.6"/>
<line x1="478.8" y1="502.6" x2="478.8" y2="504.6" stroke="#6cc4c4" stroke-width="0.6"/>
<line x1="485.9" y1="494.9" x2="485.9" y2="496.6" stroke="#6cc4c4" stroke-width="0.6"/>
<line x1="485.9" y1="502.6" x2="485.9" y2="504.6" stroke="#6cc4c4" stroke-width="0.6"/>
<line x1="492.9" y1="494.9" x2="492.9" y2="496.6" stroke="#6cc4c4" stroke-width="0.6"/>
<line x1="492.9" y1="502.6" x2="492.9" y2="504.6" stroke="#6cc4c4" stroke-width="0.6"/>
<line x1="500.0" y1="494.9" x2="500.0" y2="496.6" stroke="#6cc4c4" stroke-width="0.6"/>
<line x1="500.0" y1="502.6" x2="500.0" y2="504.6" stroke="#6cc4c4" stroke-width="0.6"/>
<line x1="507.0" y1="494.9" x2="507.0" y2="496.6" stroke="#6cc4c4" stroke-width="0.6"/>
<line x1="507.0" y1="502.6" x2="507.0" y2="504.6" stroke="#6cc4c4" stroke-width="0.6"/>
<line x1="514.1" y1="494.9" x2="514.1" y2="496.6" stroke="#6cc4c4" stroke-width="0.6"/>
<line x1="514.1" y1="502.6" x2="514.1" y2="504.6" stroke="#6cc4c4" stroke-width="0.6"/>
<line x1="521.1" y1="494.9" x2="521.1" y2="496.6" stroke="#6cc4c4" stroke-width="0.6"/>
<line x1="521.1" y1="502.6" x2="521.1" y2="504.6" stroke="#6cc4c4" stroke-width="0.6"/>
<line x1="528.1" y1="494.9" x2="528.1" y2="496.6" stroke="#6cc4c4" stroke-width="0.6"/>
<line x1="528.1" y1="502.6" x2="528.1" y2="504.6" stroke="#6cc4c4" stroke-width="0.6"/>
<line x1="535.2" y1="494.9" x2="535.2" y2="496.6" stroke="#6cc4c4" stroke-width="0.6"/>
<line x1="535.2" y1="502.6" x2="535.2" y2="504.6" stroke="#6cc4c4" stroke-width="0.6"/>
<line x1="542.2" y1="494.9" x2="542.2" y2="496.6" stroke="#6cc4c4" stroke-width="0.6"/>
<line x1="542.2" y1="502.6" x2="542.2" y2="504.6" stroke="#6cc4c4" stroke-width="0.6"/>
<line x1="549.3" y1="494.9" x2="549.3" y2="496.6" stroke="#6cc4c4" stroke-width="0.6"/>
<line x1="549.3" y1="502.6" x2="549.3" y2="504.6" stroke="#6cc4c4" stroke-width="0.6"/>
<line x1="556.3" y1="494.9" x2="556.3" y2="496.6" stroke="#6cc4c4" stroke-width="0.6"/>
<line x1="556.3" y1="502.6" x2="556.3" y2="504.6" stroke="#6cc4c4" stroke-width="0.6"/>
<line x1="563.4" y1="494.9" x2="563.4" y2="496.6" stroke="#6cc4c4" stroke-width="0.6"/>
<line x1="563.4" y1="502.6" x2="563.4" y2="504.6" stroke="#6cc4c4" stroke-width="0.6"/>
<line x1="570.4" y1="494.9" x2="570.4" y2="496.6" stroke="#6cc4c4" stroke-width="0.6"/>
<line x1="570.4" y1="502.6" x2="570.4" y2="504.6" stroke="#6cc4c4" stroke-width="0.6"/>
<line x1="577.5" y1="494.9" x2="577.5" y2="496.6" stroke="#6cc4c4" stroke-width="0.6"/>
<line x1="577.5" y1="502.6" x2="577.5" y2="504.6" stroke="#6cc4c4" stroke-width="0.6"/>
<line x1="584.5" y1="494.9" x2="584.5" y2="496.6" stroke="#6cc4c4" stroke-width="0.6"/>
<line x1="584.5" y1="502.6" x2="584.5" y2="504.6" stroke="#6cc4c4" stroke-width="0.6"/>
<line x1="591.6" y1="494.9" x2="591.6" y2="496.6" stroke="#6cc4c4" stroke-width="0.6"/>
<line x1="591.6" y1="502.6" x2="591.6" y2="504.6" stroke="#6cc4c4" stroke-width="0.6"/>
<line x1="598.6" y1="494.9" x2="598.6" y2="496.6" stroke="#6cc4c4" stroke-width="0.6"/>
<line x1="598.6" y1="502.6" x2="598.6" y2="504.6" stroke="#6cc4c4" stroke-width="0.6"/>
<line x1="605.7" y1="494.9" x2="605.7" y2="496.6" stroke="#6cc4c4" stroke-width="0.6"/>
<line x1="605.7" y1="502.6" x2="605.7" y2="504.6" stroke="#6cc4c4" stroke-width="0.6"/>
<line x1="612.7" y1="494.9" x2="612.7" y2="496.6" stroke="#6cc4c4" stroke-width="0.6"/>
<line x1="612.7" y1="502.6" x2="612.7" y2="504.6" stroke="#6cc4c4" stroke-width="0.6"/>
<line x1="619.8" y1="494.9" x2="619.8" y2="496.6" stroke="#6cc4c4" stroke-width="0.6"/>
<line x1="619.8" y1="502.6" x2="619.8" y2="504.6" stroke="#6cc4c4" stroke-width="0.6"/>
<line x1="470.3" y1="400.2" x2="470.3" y2="503.9" stroke="#3a9c9c" stroke-width="0.6"/>
<line x1="621.6" y1="400.2" x2="621.6" y2="503.9" stroke="#3a9c9c" stroke-width="0.6"/>
<line x1="522.1" y1="400.2" x2="522.1" y2="502.0" stroke="#4aa6a6" stroke-width="1.4"/>
<line x1="570.3" y1="400.2" x2="570.3" y2="502.0" stroke="#4aa6a6" stroke-width="1.4"/>
<rect x="472.2" y="406.5" width="147.8" height="95.1" fill="none" stroke="#e0820a" stroke-width="1.4"/>
<line x1="472.2" y1="449.3" x2="620.0" y2="449.3" stroke="#e0820a" stroke-width="1.5"/>
<rect x="496.0" y="404.7" width="1.6" height="1.3" fill="#d8cfa8" opacity="0.8"/>
<rect x="545.1" y="404.7" width="1.6" height="1.3" fill="#d8cfa8" opacity="0.8"/>
<rect x="593.7" y="404.7" width="1.6" height="1.3" fill="#d8cfa8" opacity="0.8"/>
<rect x="496.0" y="448.3" width="1.6" height="1.3" fill="#d8cfa8" opacity="0.8"/>
<rect x="545.1" y="448.3" width="1.6" height="1.3" fill="#d8cfa8" opacity="0.8"/>
<rect x="593.7" y="448.3" width="1.6" height="1.3" fill="#d8cfa8" opacity="0.8"/>
<rect x="496.0" y="500.1" width="1.6" height="1.3" fill="#d8cfa8" opacity="0.8"/>
<rect x="545.1" y="500.1" width="1.6" height="1.3" fill="#d8cfa8" opacity="0.8"/>
<rect x="593.7" y="500.1" width="1.6" height="1.3" fill="#d8cfa8" opacity="0.8"/>
<rect x="472.1" y="427.3" width="1.6" height="1.3" fill="#d8cfa8" opacity="0.8"/>
<rect x="472.1" y="474.3" width="1.6" height="1.3" fill="#d8cfa8" opacity="0.8"/>
<rect x="521.6" y="427.3" width="1.6" height="1.3" fill="#d8cfa8" opacity="0.8"/>
<rect x="521.6" y="474.3" width="1.6" height="1.3" fill="#d8cfa8" opacity="0.8"/>
<rect x="569.6" y="427.3" width="1.6" height="1.3" fill="#d8cfa8" opacity="0.8"/>
<rect x="569.6" y="474.3" width="1.6" height="1.3" fill="#d8cfa8" opacity="0.8"/>
<rect x="618.8" y="427.3" width="1.6" height="1.3" fill="#d8cfa8" opacity="0.8"/>
<rect x="618.8" y="474.3" width="1.6" height="1.3" fill="#d8cfa8" opacity="0.8"/>
<line x1="452.0" y1="392.0" x2="452.0" y2="406.0" stroke="#2c4f2a" stroke-width="0.8" stroke-dasharray="1.2 1"/>
<line x1="458.0" y1="396.0" x2="458.0" y2="406.0" stroke="#2c4f2a" stroke-width="0.8" stroke-dasharray="1.2 1"/>
<line x1="450.4" y1="414.0" x2="450.4" y2="415.0" stroke="#2c4f2a" stroke-width="0.8" stroke-dasharray="1.2 1"/>
<line x1="455.0" y1="406.0" x2="455.0" y2="416.0" stroke="#2c4f2a" stroke-width="0.8" stroke-dasharray="1.2 1"/>
<line x1="449.0" y1="452.0" x2="449.0" y2="462.0" stroke="#2c4f2a" stroke-width="0.8" stroke-dasharray="1.2 1"/>
<line x1="450.0" y1="520.0" x2="450.0" y2="530.0" stroke="#2c4f2a" stroke-width="0.8" stroke-dasharray="1.2 1"/>
<line x1="634.0" y1="392.0" x2="634.0" y2="404.0" stroke="#2c4f2a" stroke-width="0.8" stroke-dasharray="1.2 1"/>
<line x1="638.0" y1="396.0" x2="638.0" y2="404.0" stroke="#2c4f2a" stroke-width="0.8" stroke-dasharray="1.2 1"/>
<line x1="641.0" y1="452.0" x2="641.0" y2="462.0" stroke="#2c4f2a" stroke-width="0.8" stroke-dasharray="1.2 1"/>
<line x1="641.0" y1="520.0" x2="641.0" y2="532.0" stroke="#2c4f2a" stroke-width="0.8" stroke-dasharray="1.2 1"/>
<line x1="636.0" y1="548.0" x2="636.0" y2="550.0" stroke="#2c4f2a" stroke-width="0.8" stroke-dasharray="1.2 1"/>
<line x1="491.0" y1="399.0" x2="500.0" y2="399.0" stroke="#2c4f2a" stroke-width="0.8" stroke-dasharray="1.2 0.8"/>
<line x1="541.0" y1="399.0" x2="550.0" y2="399.0" stroke="#2c4f2a" stroke-width="0.8" stroke-dasharray="1.2 0.8"/>
<line x1="590.0" y1="399.0" x2="599.0" y2="399.0" stroke="#2c4f2a" stroke-width="0.8" stroke-dasharray="1.2 0.8"/>
<line x1="491.0" y1="432.6" x2="500.0" y2="432.6" stroke="#2c4f2a" stroke-width="0.8" stroke-dasharray="1.2 0.8"/>
<line x1="541.0" y1="432.6" x2="550.0" y2="432.6" stroke="#2c4f2a" stroke-width="0.8" stroke-dasharray="1.2 0.8"/>
<line x1="590.0" y1="432.6" x2="599.0" y2="432.6" stroke="#2c4f2a" stroke-width="0.8" stroke-dasharray="1.2 0.8"/>
<line x1="491.0" y1="506.0" x2="500.0" y2="506.0" stroke="#2c4f2a" stroke-width="0.8" stroke-dasharray="1.2 0.8"/>
<line x1="541.0" y1="506.0" x2="550.0" y2="506.0" stroke="#2c4f2a" stroke-width="0.8" stroke-dasharray="1.2 0.8"/>
<line x1="590.0" y1="506.0" x2="599.0" y2="506.0" stroke="#2c4f2a" stroke-width="0.8" stroke-dasharray="1.2 0.8"/>
<line x1="494.0" y1="436.0" x2="494.0" y2="448.0" stroke="#3f6a38" stroke-width="0.7" stroke-dasharray="1 1.2"/>
<line x1="543.0" y1="436.0" x2="543.0" y2="448.0" stroke="#3f6a38" stroke-width="0.7" stroke-dasharray="1 1.2"/>
<line x1="592.0" y1="436.0" x2="592.0" y2="448.0" stroke="#3f6a38" stroke-width="0.7" stroke-dasharray="1 1.2"/>
<line x1="452.4" y1="530.0" x2="452.4" y2="558.6" stroke="#12c896" stroke-width="1.1"/>
<line x1="452.6" y1="558.8" x2="480.3" y2="558.8" stroke="#c81414" stroke-width="1.6"/>
<line x1="463.1" y1="549.7" x2="493.0" y2="549.7" stroke="#8a8a8a" stroke-width="1.4"/>
<line x1="478.1" y1="534.5" x2="478.1" y2="565.8" stroke="#8a8a8a" stroke-width="1.4"/>
<path d="M449.2 516.8l2.9 3.6l2.9-3.6M452.1 520.4v3.8" fill="none" stroke="#7a7a7a" stroke-width="0.9"/>
<path d="M485.8 556l6 6.4M491.8 556l-6 6.4" fill="none" stroke="#7a7a7a" stroke-width="0.9"/>
<path d="M450 556h5.4l-5.4 6.4h5.6" fill="none" stroke="#7a7a7a" stroke-width="0.9"/>
</g>
<g id="doc"><rect x="898" y="390" width="141" height="198" fill="#ffffff"/><path d="M915.5 403.4h3v3M1020.2 403.4h-3v3M915.5 573h3v-3M1020.2 573h-3v-3" fill="none" stroke="#cfcfcf" stroke-width="0.5"/><rect x="905.4" y="557.6" width="2.6" height="3.6" fill="#a9c4ea"/><rect x="909.6" y="559.2" width="1" height="0.6" fill="#b8c8e0"/><rect x="918.9" y="558.4" width="0.9" height="2.4" fill="#444"/>
<text class="d" x="927.72" y="412.2" font-size="5.1" fill="#333">北京市城市轨道交通四号线一期工程</text>
<text class="d" x="958.32" y="426.8" font-size="5.1" fill="#333">北京南站</text>
<text class="d" x="946.77" y="441.6" font-size="5.1" fill="#333">第二册  结构与防水</text>
<text class="d" x="947.51" y="456.1" font-size="5.1" fill="#333">第二分册 主体结构</text>
<text x="953.83" y="497.8" font-size="9.8" font-weight="bold" fill="#111" font-family="&quot;Liberation Serif&quot;,&quot;Noto Serif CJK SC&quot;,serif">计算书</text>
<text class="d" x="949.02" y="544.6" font-size="4.2" fill="#333">交通设计研究院有限公司</text>
<text class="d" x="936.56" y="550.6" font-size="3.5" fill="#3a3a3a">工程设计证书：甲级  编号：A144012380</text>
<text class="d" x="952.35" y="556.6" font-size="4" fill="#333">2022 年 6 月  北京</text>
</g>
<g id="labels">
<text class="t" x="84.25" y="137.32">识图成模</text>
<text class="l" x="49.05" y="173.2" textLength="157.2" lengthAdjust="spacing">识取里程/标高信息</text>
<text class="l" x="49.05" y="195.05" textLength="168" lengthAdjust="spacing">识别轴网/墙/柱/梁/</text>
<text class="l" x="49.18" y="216.9" textLength="157.2" lengthAdjust="spacing">洞口/轨面线等构件</text>
<text class="l" x="49.04" y="238.75" textLength="147.5" lengthAdjust="spacing">支持分层识别构件</text>
<text class="t" x="290.1" y="408.42">构件建模</text>
<text class="l" x="274.56" y="448.2" textLength="110.4" lengthAdjust="spacing">梁柱板墙布置</text>
<text class="l" x="274.58" y="470.05" textLength="110.4" lengthAdjust="spacing">洞边构件设置</text>
<text class="l" x="273.75" y="491.9" textLength="101.6" lengthAdjust="spacing">出入口/墙洞</text>
<text class="l" x="274.45" y="513.75" textLength="138.7" lengthAdjust="spacing">局部降板/盾构口</text>
<text class="l" x="274.72" y="535.6" textLength="129.9" lengthAdjust="spacing">加腋/企口/挡墙</text>
<text class="t" x="499.58" y="129.74">二维计算</text>
<text class="l" x="468.76" y="169.2" textLength="157.2" lengthAdjust="spacing">总参定义/地质信息</text>
<text class="l" x="468.92" y="191.05" textLength="166" lengthAdjust="spacing">三维模型转二维计算</text>
<text class="l" x="468.78" y="212.9" textLength="157.2" lengthAdjust="spacing">二维断面+纵梁计算</text>
<text class="l" x="468.94" y="234.75" textLength="157.2" lengthAdjust="spacing">配筋设计/三维钢筋</text>
<text class="t" x="724.36" y="408.44">生成图纸</text>
<text class="l" x="693.69" y="448.2" textLength="110.4" lengthAdjust="spacing">图纸参数设置</text>
<text class="l" x="692.21" y="470.05" textLength="147.5" lengthAdjust="spacing">自定义设计总说明</text>
<text class="l" x="695.01" y="491.9" textLength="157.2" lengthAdjust="spacing">各类模板图/配筋图</text>
<text class="l" x="693.69" y="513.75" textLength="147.5" lengthAdjust="spacing">图纸自动分幅排序</text>
<text class="l" x="693.69" y="535.6" textLength="110.4" lengthAdjust="spacing">图素自动避让</text>
<text class="t" x="936.55" y="133.94">计算书</text>
<text class="l" x="918.19" y="184.6" textLength="110.4" lengthAdjust="spacing">图表文字可控</text>
<text class="l" x="919.34" y="206.45" textLength="110.4" lengthAdjust="spacing">文档层级可调</text>
<text class="l" x="919.44" y="228.3" textLength="110.4" lengthAdjust="spacing">定制版计算书</text>
</g>
</svg>
</div>
</body>
</html>
